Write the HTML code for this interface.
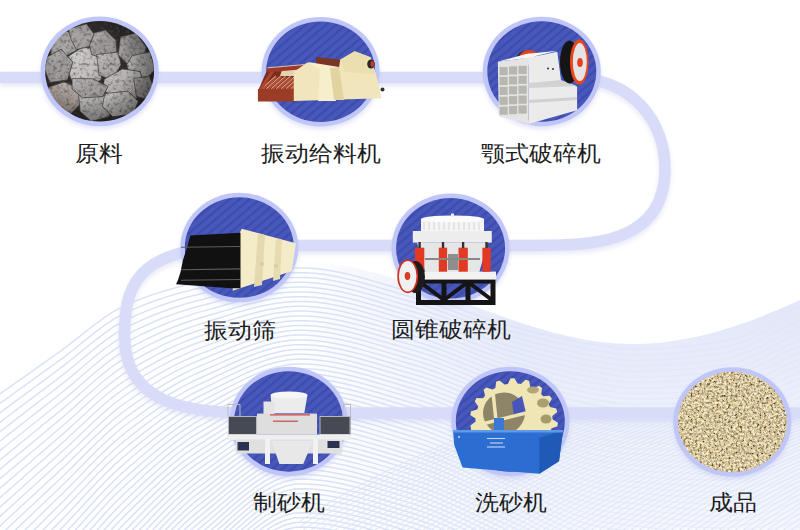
<!DOCTYPE html>
<html><head><meta charset="utf-8">
<style>
html,body{margin:0;padding:0;background:#fff;}
body{width:800px;height:530px;position:relative;overflow:hidden;font-family:"Liberation Sans",sans-serif;}
svg{position:absolute;left:0;top:0;}
.t{position:absolute;font-size:24.3px;color:#1c1c1c;white-space:nowrap;line-height:30px;height:30px;transform:translateX(-50%) scaleY(0.92);transform-origin:50% 50%;}
</style></head><body>
<svg width="800" height="530" viewBox="0 0 800 530">
<defs>
<pattern id="st" patternUnits="userSpaceOnUse" width="6.5" height="6.5" patternTransform="rotate(50)">
<rect width="6.5" height="6.5" fill="#4757ba"/><rect width="2.2" height="6.5" fill="#3c4bac"/>
</pattern>
<linearGradient id="tint" gradientUnits="userSpaceOnUse" x1="0" y1="290" x2="0" y2="530">
<stop offset="0" stop-color="#e1e6f9"/><stop offset="0.5" stop-color="#ecf0fb"/><stop offset="1" stop-color="#f5f7fd"/>
</linearGradient>
<linearGradient id="hfade" gradientUnits="userSpaceOnUse" x1="300" y1="0" x2="520" y2="0">
<stop offset="0" stop-color="#000"/><stop offset="1" stop-color="#fff"/>
</linearGradient>
<mask id="tmask" maskUnits="userSpaceOnUse" x="0" y="0" width="800" height="530"><rect width="800" height="530" fill="url(#hfade)"/></mask>
<linearGradient id="lfade" gradientUnits="userSpaceOnUse" x1="0" y1="0" x2="800" y2="0">
<stop offset="0" stop-color="#fff"/><stop offset="0.5" stop-color="#fff"/><stop offset="0.72" stop-color="#666"/><stop offset="1" stop-color="#444"/>
</linearGradient>
<mask id="lmask" maskUnits="userSpaceOnUse" x="0" y="0" width="800" height="530"><rect width="800" height="530" fill="url(#lfade)"/></mask>
<clipPath id="lowclip"><rect x="300" y="419" width="500" height="111"/></clipPath>
<linearGradient id="rsh" x1="0" y1="0" x2="1" y2="1">
<stop offset="0" stop-color="#fff" stop-opacity="0.3"/><stop offset="0.5" stop-color="#fff" stop-opacity="0"/><stop offset="1" stop-color="#000" stop-opacity="0.35"/>
</linearGradient>
<radialGradient id="vig" cx="0.42" cy="0.45" r="0.6">
<stop offset="0.55" stop-color="#000" stop-opacity="0"/><stop offset="1" stop-color="#000" stop-opacity="0.38"/>
</radialGradient>
<filter id="bl" x="-20%" y="-20%" width="140%" height="140%"><feGaussianBlur stdDeviation="2"/></filter>
<filter id="sand" x="0" y="0" width="100%" height="100%">
<feTurbulence type="fractalNoise" baseFrequency="0.42" numOctaves="3" seed="3" result="n"/>
<feColorMatrix in="n" type="matrix" values="0 0 0 0 0  0 0 0 0 0  0 0 0 0 0  -3.0 0 0 0 1.55" result="a"/>
<feFlood flood-color="#4e3a20" result="d"/>
<feComposite in="d" in2="a" operator="in" result="dk"/>
<feTurbulence type="fractalNoise" baseFrequency="0.45" numOctaves="3" seed="11" result="n2"/>
<feColorMatrix in="n2" type="matrix" values="0 0 0 0 0  0 0 0 0 0  0 0 0 0 0  3.2 0 0 0 -1.1" result="a2"/>
<feFlood flood-color="#f5edcf" result="l"/>
<feComposite in="l" in2="a2" operator="in" result="lt"/>
<feMerge><feMergeNode in="SourceGraphic"/><feMergeNode in="lt"/><feMergeNode in="dk"/></feMerge>
</filter>
<filter id="rock" x="0" y="0" width="100%" height="100%">
<feTurbulence type="fractalNoise" baseFrequency="0.3" numOctaves="3" seed="7" result="n"/>
<feColorMatrix in="n" type="matrix" values="0 0 0 0 0  0 0 0 0 0  0 0 0 0 0  -2.0 0 0 0 1.1" result="a"/>
<feFlood flood-color="#4a4444" result="d"/>
<feComposite in="d" in2="a" operator="in" result="dk"/>
<feMerge><feMergeNode in="SourceGraphic"/><feMergeNode in="dk"/></feMerge>
</filter>
</defs>
<path d="M0,388 C60,322 170,262 300,262 C410,262 520,344 632,344 C700,344 760,318 800,300 V530 H0 Z" fill="url(#tint)" mask="url(#tmask)"/>
<g fill="none" stroke="#d9e2f6" stroke-width="1.5" mask="url(#lmask)"><path d="M-5,397.5 5,390.4 15,383.3 25,376.3 35,369.2 45,362.1 55,355.0 65,347.9 75,340.2 85,332.2 95,324.4 105,317.1 115,310.6 125,305.5 135,301.3 145,297.4 155,293.9 165,290.7 175,287.9 185,285.3 195,283.0 205,281.0 215,279.0 225,277.0 235,275.1 245,273.3 255,271.6 265,270.2 275,269.1 285,268.3 295,267.9 305,267.9 315,268.5 325,269.8 335,271.5 345,273.6 355,276.0 365,278.7 375,281.6 385,284.5 395,287.5 405,290.4 415,293.1 425,296.2 435,299.5 445,303.1 455,306.9 465,310.7 475,314.5 485,318.1 495,321.5 505,324.6 515,327.3 525,329.9 535,332.4 545,334.8 555,337.0 565,339.2 575,341.2 585,343.0 595,344.7 605,346.3 615,348.0 625,349.2 635,349.5 645,349.3 655,348.9 665,348.2 675,347.4 685,346.4 695,345.3 705,344.1 715,342.7 725,341.1 735,338.4 745,334.7 755,330.2 765,325.1 775,319.8 785,314.4 795,309.2 805,304.5 805,304.5"/><path d="M-5,407.0 5,399.8 15,392.5 25,385.3 35,378.1 45,370.8 55,363.6 65,356.3 75,348.5 85,340.4 95,332.4 105,324.9 115,318.3 125,313.0 135,308.6 145,304.5 155,300.8 165,297.4 175,294.3 185,291.6 195,289.1 205,286.9 215,284.7 225,282.6 235,280.5 245,278.5 255,276.8 265,275.2 275,274.0 285,273.1 295,272.7 305,272.7 315,273.3 325,274.5 335,276.3 345,278.4 355,280.8 365,283.5 375,286.4 385,289.3 395,292.3 405,295.2 415,297.9 425,301.0 435,304.3 445,308.0 455,311.7 465,315.6 475,319.4 485,323.0 495,326.5 505,329.6 515,332.3 525,335.0 535,337.5 545,340.0 555,342.3 565,344.5 575,346.6 585,348.5 595,350.2 605,351.8 615,353.5 625,354.7 635,355.0 645,354.8 655,354.4 665,353.8 675,353.1 685,352.2 695,351.1 705,349.9 715,348.7 725,347.2 735,344.5 745,340.9 755,336.4 765,331.4 775,326.1 785,320.8 795,315.7 805,311.0 805,311.0"/><path d="M-5,416.5 5,409.1 15,401.7 25,394.3 35,387.0 45,379.6 55,372.2 65,364.7 75,356.7 85,348.5 95,340.4 105,332.8 115,326.0 125,320.5 135,315.9 145,311.6 155,307.6 165,304.0 175,300.7 185,297.8 195,295.2 205,292.8 215,290.5 225,288.2 235,285.9 245,283.8 255,281.9 265,280.2 275,278.9 285,278.0 295,277.5 305,277.5 315,278.1 325,279.3 335,281.1 345,283.2 355,285.6 365,288.3 375,291.2 385,294.1 395,297.1 405,300.0 415,302.7 425,305.8 435,309.2 445,312.8 455,316.6 465,320.4 475,324.3 485,327.9 495,331.4 505,334.6 515,337.4 525,340.1 535,342.7 545,345.2 555,347.6 565,349.9 575,352.0 585,353.9 595,355.7 605,357.3 615,359.0 625,360.2 635,360.5 645,360.3 655,360.0 665,359.4 675,358.7 685,357.9 695,356.9 705,355.8 715,354.6 725,353.2 735,350.6 745,347.0 755,342.6 765,337.7 775,332.5 785,327.2 795,322.1 805,317.5 805,317.5"/><path d="M-5,426.0 5,418.5 15,410.9 25,403.4 35,395.8 45,388.3 55,380.8 65,373.1 75,365.0 85,356.7 95,348.4 105,340.7 115,333.7 125,328.0 135,323.1 145,318.6 155,314.5 165,310.7 175,307.2 185,304.1 195,301.3 205,298.8 215,296.3 225,293.8 235,291.4 245,289.1 255,287.0 265,285.3 275,283.8 285,282.8 295,282.3 305,282.3 315,282.9 325,284.1 335,285.8 345,288.0 355,290.4 365,293.1 375,296.0 385,298.9 395,301.9 405,304.8 415,307.5 425,310.6 435,314.0 445,317.6 455,321.4 465,325.3 475,329.1 485,332.9 495,336.4 505,339.5 515,342.4 525,345.1 535,347.8 545,350.4 555,352.9 565,355.2 575,357.4 585,359.4 595,361.2 605,362.8 615,364.5 625,365.7 635,366.0 645,365.8 655,365.5 665,365.0 675,364.4 685,363.6 695,362.7 705,361.7 715,360.6 725,359.2 735,356.8 745,353.2 755,348.9 765,344.0 775,338.8 785,333.6 795,328.6 805,324.0 805,324.0"/><path d="M-5,435.5 5,427.8 15,420.1 25,412.4 35,404.7 45,397.0 55,389.3 65,381.6 75,373.3 85,364.8 95,356.4 105,348.5 115,341.4 125,335.5 135,330.4 145,325.7 155,321.3 165,317.3 175,313.6 185,310.3 195,307.3 205,304.7 215,302.0 225,299.4 235,296.8 245,294.4 255,292.2 265,290.3 275,288.7 285,287.7 295,287.1 305,287.1 315,287.7 325,288.9 335,290.6 345,292.8 355,295.2 365,297.9 375,300.7 385,303.7 395,306.7 405,309.6 415,312.3 425,315.4 435,318.8 445,322.4 455,326.3 465,330.2 475,334.0 485,337.8 495,341.3 505,344.5 515,347.4 525,350.2 535,353.0 545,355.6 555,358.2 565,360.6 575,362.8 585,364.9 595,366.7 605,368.3 615,370.0 625,371.2 635,371.5 645,371.4 655,371.1 665,370.6 675,370.0 685,369.3 695,368.5 705,367.6 715,366.5 725,365.3 735,362.9 745,359.4 755,355.1 765,350.3 775,345.1 785,340.0 795,335.0 805,330.5 805,330.5"/><path d="M-5,445.0 5,437.2 15,429.3 25,421.5 35,413.6 45,405.8 55,397.9 65,390.0 75,381.6 85,373.0 95,364.5 105,356.4 115,349.1 125,343.0 135,337.7 145,332.8 155,328.2 165,323.9 175,320.1 185,316.6 195,313.4 205,310.6 215,307.8 225,305.0 235,302.2 245,299.7 255,297.3 265,295.3 275,293.7 285,292.5 295,291.9 305,291.9 315,292.5 325,293.7 335,295.4 345,297.5 355,300.0 365,302.7 375,305.5 385,308.5 395,311.5 405,314.4 415,317.1 425,320.2 435,323.6 445,327.3 455,331.1 465,335.0 475,338.9 485,342.7 495,346.2 505,349.5 515,352.4 525,355.3 535,358.1 545,360.9 555,363.5 565,365.9 575,368.2 585,370.3 595,372.2 605,373.8 615,375.5 625,376.7 635,377.0 645,376.9 655,376.6 665,376.2 675,375.7 685,375.0 695,374.3 705,373.4 715,372.5 725,371.3 735,369.0 745,365.6 755,361.4 765,356.6 775,351.5 785,346.4 795,341.4 805,337.0 805,337.0"/><path d="M-5,454.5 5,446.5 15,438.5 25,430.5 35,422.5 45,414.5 55,406.5 65,398.4 75,389.9 85,381.1 95,372.5 105,364.3 115,356.8 125,350.5 135,345.0 145,339.8 155,335.0 165,330.6 175,326.5 185,322.8 195,319.5 205,316.5 215,313.5 225,310.6 235,307.7 245,304.9 255,302.5 265,300.3 275,298.6 285,297.3 295,296.7 305,296.7 315,297.3 325,298.5 335,300.2 345,302.3 355,304.8 365,307.5 375,310.3 385,313.3 395,316.2 405,319.1 415,321.9 425,325.0 435,328.4 445,332.1 455,335.9 465,339.9 475,343.8 485,347.6 495,351.2 505,354.5 515,357.5 525,360.4 535,363.3 545,366.1 555,368.8 565,371.3 575,373.7 585,375.8 595,377.7 605,379.3 615,381.0 625,382.2 635,382.5 645,382.4 655,382.1 665,381.8 675,381.3 685,380.7 695,380.1 705,379.3 715,378.4 725,377.4 735,375.1 745,371.8 755,367.6 765,362.9 775,357.8 785,352.7 795,347.9 805,343.5 805,343.5"/><path d="M-5,464.0 5,455.8 15,447.7 25,439.5 35,431.4 45,423.2 55,415.1 65,406.8 75,398.2 85,389.3 95,380.5 105,372.1 115,364.5 125,358.0 135,352.3 145,346.9 155,341.9 165,337.2 175,333.0 185,329.1 195,325.6 205,322.5 215,319.3 225,316.2 235,313.1 245,310.2 255,307.6 265,305.3 275,303.5 285,302.2 295,301.5 305,301.5 315,302.1 325,303.3 335,305.0 345,307.1 355,309.6 365,312.3 375,315.1 385,318.1 395,321.0 405,323.9 415,326.7 425,329.8 435,333.2 445,336.9 455,340.8 465,344.7 475,348.7 485,352.5 495,356.1 505,359.5 515,362.5 525,365.5 535,368.4 545,371.3 555,374.1 565,376.7 575,379.1 585,381.3 595,383.2 605,384.8 615,386.5 625,387.7 635,388.0 645,387.9 655,387.7 665,387.4 675,386.9 685,386.4 695,385.8 705,385.2 715,384.4 725,383.4 735,381.2 745,378.0 755,373.9 765,369.2 775,364.2 785,359.1 795,354.3 805,350.0 805,350.0"/><path d="M-5,473.5 5,465.2 15,456.9 25,448.6 35,440.3 45,432.0 55,423.7 65,415.3 75,406.4 85,397.4 95,388.5 105,380.0 115,372.2 125,365.5 135,359.6 145,354.0 155,348.8 165,343.9 175,339.4 185,335.3 195,331.7 205,328.4 215,325.1 225,321.8 235,318.5 245,315.5 255,312.7 265,310.3 275,308.4 285,307.0 295,306.3 305,306.3 315,306.9 325,308.1 335,309.8 345,311.9 355,314.4 365,317.0 375,319.9 385,322.9 395,325.8 405,328.7 415,331.5 425,334.6 435,338.1 445,341.8 455,345.6 465,349.6 475,353.5 485,357.4 495,361.1 505,364.4 515,367.5 525,370.6 535,373.6 545,376.5 555,379.3 565,382.0 575,384.5 585,386.7 595,388.7 605,390.3 615,392.0 625,393.2 635,393.5 645,393.4 655,393.2 665,393.0 675,392.6 685,392.1 695,391.6 705,391.0 715,390.4 725,389.5 735,387.4 745,384.2 755,380.1 765,375.5 775,370.5 785,365.5 795,360.8 805,356.5 805,356.5"/><path d="M-5,483.0 5,474.5 15,466.1 25,457.6 35,449.2 45,440.7 55,432.2 65,423.7 75,414.7 85,405.6 95,396.5 105,387.8 115,379.9 125,373.0 135,366.9 145,361.1 155,355.6 165,350.5 175,345.9 185,341.6 195,337.7 205,334.3 215,330.8 225,327.4 235,324.0 245,320.8 255,317.9 265,315.4 275,313.3 285,311.9 295,311.1 305,311.1 315,311.7 325,312.9 335,314.6 345,316.7 355,319.2 365,321.8 375,324.7 385,327.6 395,330.6 405,333.5 415,336.3 425,339.4 435,342.9 445,346.6 455,350.5 465,354.4 475,358.4 485,362.3 495,366.0 505,369.4 515,372.5 525,375.6 535,378.7 545,381.7 555,384.6 565,387.4 575,389.9 585,392.2 595,394.1 605,395.8 615,397.5 625,398.7 635,399.0 645,398.9 655,398.8 665,398.5 675,398.2 685,397.8 695,397.4 705,396.9 715,396.3 725,395.5 735,393.5 745,390.3 755,386.4 765,381.8 775,376.9 785,371.9 795,367.2 805,363.0 805,363.0"/><path d="M-5,492.5 5,483.9 15,475.3 25,466.7 35,458.0 45,449.4 55,440.8 65,432.1 75,423.0 85,413.7 95,404.5 105,395.7 115,387.6 125,380.5 135,374.2 145,368.2 155,362.5 165,357.2 175,352.3 185,347.8 195,343.8 205,340.2 215,336.6 225,333.0 235,329.4 245,326.1 255,323.0 265,320.4 275,318.2 285,316.7 295,315.9 305,315.9 315,316.5 325,317.7 335,319.4 345,321.5 355,323.9 365,326.6 375,329.5 385,332.4 395,335.4 405,338.3 415,341.1 425,344.2 435,347.7 445,351.4 455,355.3 465,359.3 475,363.3 485,367.2 495,370.9 505,374.4 515,377.6 525,380.7 535,383.9 545,387.0 555,389.9 565,392.7 575,395.3 585,397.6 595,399.6 605,401.3 615,403.0 625,404.2 635,404.5 645,404.4 655,404.3 665,404.1 675,403.9 685,403.5 695,403.2 705,402.7 715,402.3 725,401.5 735,399.6 745,396.5 755,392.6 765,388.1 775,383.2 785,378.3 795,373.7 805,369.5 805,369.5"/><path d="M-5,502.0 5,493.2 15,484.5 25,475.7 35,466.9 45,458.2 55,449.4 65,440.5 75,431.3 85,421.8 95,412.5 105,403.5 115,395.3 125,388.0 135,381.5 145,375.2 155,369.4 165,363.9 175,358.7 185,354.1 195,349.9 205,346.1 215,342.4 225,338.5 235,334.8 245,331.3 255,328.2 265,325.4 275,323.2 285,321.6 295,320.7 305,320.7 315,321.3 325,322.5 335,324.2 345,326.3 355,328.7 365,331.4 375,334.3 385,337.2 395,340.2 405,343.1 415,345.9 425,349.0 435,352.5 445,356.2 455,360.2 465,364.2 475,368.2 485,372.1 495,375.9 505,379.4 515,382.6 525,385.8 535,389.0 545,392.2 555,395.2 565,398.1 575,400.7 585,403.1 595,405.1 605,406.8 615,408.5 625,409.7 635,410.0 645,410.0 655,409.9 665,409.7 675,409.5 685,409.2 695,408.9 705,408.6 715,408.2 725,407.6 735,405.7 745,402.7 755,398.9 765,394.4 775,389.6 785,384.7 795,380.1 805,376.0 805,376.0"/><path d="M-5,511.5 5,502.6 15,493.7 25,484.7 35,475.8 45,466.9 55,458.0 65,449.0 75,439.6 85,430.0 95,420.5 105,411.4 115,403.0 125,395.5 135,388.8 145,382.3 155,376.2 165,370.5 175,365.2 185,360.3 195,356.0 205,352.1 215,348.1 225,344.1 235,340.3 245,336.6 255,333.3 265,330.4 275,328.1 285,326.4 295,325.5 305,325.5 315,326.1 325,327.3 335,329.0 345,331.1 355,333.5 365,336.2 375,339.1 385,342.0 395,345.0 405,347.9 415,350.7 425,353.9 435,357.3 445,361.1 455,365.0 465,369.0 475,373.1 485,377.0 495,380.8 505,384.4 515,387.6 525,390.9 535,394.2 545,397.4 555,400.5 565,403.5 575,406.2 585,408.6 595,410.6 605,412.3 615,414.0 625,415.2 635,415.5 645,415.5 655,415.4 665,415.3 675,415.1 685,414.9 695,414.7 705,414.5 715,414.2 725,413.6 735,411.9 745,408.9 755,405.1 765,400.7 775,395.9 785,391.1 795,386.6 805,382.5 805,382.5"/><path d="M-5,521.0 5,511.9 15,502.8 25,493.8 35,484.7 45,475.6 55,466.5 65,457.4 75,447.8 85,438.1 95,428.5 105,419.2 115,410.6 125,403.0 135,396.1 145,389.4 155,383.1 165,377.2 175,371.6 185,366.6 195,362.1 205,358.0 215,353.9 225,349.7 235,345.7 245,341.9 255,338.4 265,335.4 275,333.0 285,331.2 295,330.3 305,330.3 315,330.9 325,332.1 335,333.8 345,335.9 355,338.3 365,341.0 375,343.9 385,346.8 395,349.8 405,352.7 415,355.6 425,358.7 435,362.1 445,365.9 455,369.8 465,373.9 475,378.0 485,381.9 495,385.8 505,389.3 515,392.6 525,396.0 535,399.3 545,402.6 555,405.8 565,408.8 575,411.6 585,414.0 595,416.1 605,417.8 615,419.5 625,420.7 635,421.0 645,421.0 655,420.9 665,420.9 675,420.8 685,420.6 695,420.5 705,420.3 715,420.1 725,419.7 735,418.0 745,415.1 755,411.4 765,407.0 775,402.3 785,397.5 795,393.0 805,389.0 805,389.0"/><path d="M-5,530.5 5,521.3 15,512.0 25,502.8 35,493.6 45,484.3 55,475.1 65,465.8 75,456.1 85,446.3 95,436.5 105,427.1 115,418.3 125,410.5 135,403.4 145,396.5 155,390.0 165,383.8 175,378.1 185,372.9 195,368.1 205,363.9 215,359.6 225,355.3 235,351.2 245,347.2 255,343.6 265,340.4 275,337.9 285,336.1 295,335.1 305,335.1 315,335.7 325,336.9 335,338.6 345,340.7 355,343.1 365,345.8 375,348.6 385,351.6 395,354.6 405,357.5 415,360.4 425,363.5 435,367.0 445,370.7 455,374.7 465,378.8 475,382.8 485,386.8 495,390.7 505,394.3 515,397.7 525,401.0 535,404.5 545,407.8 555,411.1 565,414.2 575,417.0 585,419.5 595,421.6 605,423.3 615,425.0 625,426.2 635,426.5 645,426.5 655,426.5 665,426.4 675,426.4 685,426.3 695,426.2 705,426.2 715,426.1 725,425.7 735,424.2 745,421.4 755,417.7 765,413.3 775,408.6 785,403.9 795,399.4 805,395.5 805,395.5"/><path d="M-5,540.0 5,530.6 15,521.2 25,511.8 35,502.5 45,493.1 55,483.7 65,474.2 75,464.4 85,454.4 95,444.5 105,434.9 115,426.0 125,418.0 135,410.7 145,403.6 155,396.8 165,390.5 175,384.5 185,379.1 195,374.2 205,369.8 215,365.4 225,360.9 235,356.6 245,352.5 255,348.7 265,345.5 275,342.8 285,340.9 295,339.9 305,339.9 315,340.5 325,341.7 335,343.4 345,345.5 355,347.9 365,350.6 375,353.4 385,356.4 395,359.4 405,362.3 415,365.2 425,368.3 435,371.8 445,375.6 455,379.5 465,383.6 475,387.7 485,391.8 495,395.6 505,399.3 515,402.7 525,406.1 535,409.6 545,413.0 555,416.4 565,419.5 575,422.4 585,425.0 595,427.1 605,428.9 615,430.5 625,431.7 635,432.0 645,432.0 655,432.0 665,432.0 675,432.0 685,432.0 695,432.0 705,432.0 715,432.0 725,431.8 735,430.3 745,427.6 755,423.9 765,419.6 775,415.0 785,410.3 795,405.9 805,402.0 805,402.0"/><path d="M-5,549.5 5,540.0 15,530.4 25,520.9 35,511.3 45,501.8 55,492.3 65,482.7 75,472.7 85,462.5 95,452.5 105,442.8 115,433.7 125,425.5 135,418.0 145,410.7 155,403.7 165,397.1 175,391.0 185,385.4 195,380.3 205,375.8 215,371.2 225,366.5 235,362.0 245,357.8 255,353.9 265,350.5 275,347.7 285,345.8 295,344.7 305,344.7 315,345.3 325,346.5 335,348.2 345,350.3 355,352.7 365,355.4 375,358.2 385,361.2 395,364.2 405,367.1 415,370.0 425,373.1 435,376.6 445,380.4 455,384.4 465,388.5 475,392.6 485,396.7 495,400.6 505,404.3 515,407.7 525,411.2 535,414.7 545,418.3 555,421.7 565,424.9 575,427.8 585,430.4 595,432.6 605,434.3 615,436.0 625,437.2 635,437.5 645,437.6 655,437.7 665,437.8 675,437.9 685,437.9 695,438.0 705,438.0 715,438.0 725,437.8 735,436.3 745,433.6 755,430.1 765,425.8 775,421.3 785,416.7 795,412.3 805,408.5 805,408.5"/><path d="M-5,559.0 5,549.3 15,539.6 25,529.9 35,520.2 45,510.5 55,500.8 65,491.1 75,481.0 85,470.7 95,460.5 105,450.6 115,441.4 125,433.0 135,425.3 145,417.8 155,410.6 165,403.8 175,397.4 185,391.6 195,386.4 205,381.7 215,376.9 225,372.1 235,367.5 245,363.0 255,359.0 265,355.5 275,352.7 285,350.6 295,349.5 305,349.5 315,350.1 325,351.3 335,353.0 345,355.1 355,357.5 365,360.2 375,363.0 385,366.0 395,369.0 405,371.9 415,374.8 425,377.9 435,381.4 445,385.2 455,389.2 465,393.3 475,397.5 485,401.6 495,405.5 505,409.3 515,412.7 525,416.3 535,419.9 545,423.5 555,427.0 565,430.2 575,433.3 585,435.9 595,438.1 605,439.8 615,441.4 625,442.6 635,443.1 645,443.3 655,443.5 665,443.6 675,443.8 685,443.9 695,443.9 705,444.0 715,444.0 725,443.8 735,442.4 745,439.7 755,436.2 765,432.0 775,427.6 785,423.1 795,418.8 805,415.0 805,415.0"/><path d="M-5,568.5 5,558.7 15,548.8 25,539.0 35,529.1 45,519.3 55,509.4 65,499.5 75,489.2 85,478.8 95,468.5 105,458.5 115,449.0 125,440.5 135,432.6 145,424.9 155,417.5 165,410.5 175,403.9 185,397.9 195,392.5 205,387.6 215,382.7 225,377.7 235,372.9 245,368.3 255,364.1 265,360.5 275,357.6 285,355.5 295,354.3 305,354.3 315,354.9 325,356.1 335,357.8 345,359.9 355,362.3 365,365.0 375,367.8 385,370.8 395,373.8 405,376.7 415,379.6 425,382.7 435,386.2 445,390.1 455,394.1 465,398.2 475,402.4 485,406.5 495,410.5 505,414.2 515,417.7 525,421.4 535,425.0 545,428.7 555,432.2 565,435.6 575,438.7 585,441.4 595,443.6 605,445.3 615,446.9 625,448.1 635,448.6 645,448.9 655,449.2 665,449.4 675,449.6 685,449.8 695,449.9 705,450.0 715,450.0 725,449.8 735,448.4 745,445.8 755,442.3 765,438.3 775,433.9 785,429.4 795,425.2 805,421.5 805,421.5"/><path d="M-5,578.0 5,568.0 15,558.0 25,548.0 35,538.0 45,528.0 55,518.0 65,507.9 75,497.5 85,486.9 95,476.5 105,466.3 115,456.7 125,448.0 135,439.9 145,431.9 155,424.3 165,417.1 175,410.4 185,404.1 195,398.5 205,393.5 215,388.4 225,383.3 235,378.3 245,373.6 255,369.3 265,365.5 275,362.5 285,360.3 295,359.2 305,359.1 315,359.7 325,360.9 335,362.6 345,364.7 355,367.1 365,369.7 375,372.6 385,375.6 395,378.6 405,381.5 415,384.4 425,387.5 435,391.1 445,394.9 455,398.9 465,403.1 475,407.3 485,411.4 495,415.4 505,419.2 515,422.8 525,426.4 535,430.2 545,433.9 555,437.5 565,441.0 575,444.1 585,446.8 595,449.1 605,450.8 615,452.4 625,453.5 635,454.1 645,454.5 655,454.9 665,455.2 675,455.5 685,455.7 695,455.8 705,455.9 715,456.0 725,455.8 735,454.4 745,451.9 755,448.5 765,444.5 775,440.1 785,435.8 795,431.6 805,428.0 805,428.0"/><path d="M-5,587.5 5,577.3 15,567.2 25,557.0 35,546.9 45,536.7 55,526.6 65,516.4 75,505.8 85,495.1 95,484.4 105,474.1 115,464.4 125,455.5 135,447.2 145,439.0 155,431.2 165,423.8 175,416.8 185,410.4 195,404.6 205,399.4 215,394.2 225,388.9 235,383.8 245,378.9 255,374.4 265,370.5 275,367.4 285,365.2 295,364.0 305,363.9 315,364.5 325,365.7 335,367.4 345,369.5 355,371.9 365,374.5 375,377.4 385,380.4 395,383.3 405,386.3 415,389.2 425,392.3 435,395.9 445,399.7 455,403.8 465,407.9 475,412.1 485,416.3 495,420.4 505,424.2 515,427.8 525,431.5 535,435.3 545,439.1 555,442.8 565,446.3 575,449.5 585,452.3 595,454.6 605,456.3 615,457.8 625,459.0 635,459.7 645,460.1 655,460.6 665,461.0 675,461.3 685,461.6 695,461.8 705,461.9 715,462.0 725,461.8 735,460.4 745,457.9 755,454.6 765,450.7 775,446.4 785,442.1 795,438.1 805,434.5 805,434.5"/><path d="M-5,597.0 5,586.7 15,576.4 25,566.1 35,555.8 45,545.5 55,535.2 65,524.8 75,514.1 85,503.2 95,492.4 105,482.0 115,472.1 125,463.0 135,454.5 145,446.1 155,438.1 165,430.4 175,423.3 185,416.6 195,410.7 205,405.4 215,400.0 225,394.5 235,389.2 245,384.2 255,379.6 265,375.6 275,372.3 285,370.0 295,368.8 305,368.7 315,369.3 325,370.5 335,372.2 345,374.2 355,376.7 365,379.3 375,382.2 385,385.1 395,388.1 405,391.1 415,394.0 425,397.1 435,400.7 445,404.5 455,408.6 465,412.8 475,417.0 485,421.2 495,425.3 505,429.2 515,432.8 525,436.6 535,440.5 545,444.3 555,448.1 565,451.7 575,454.9 585,457.8 595,460.1 605,461.8 615,463.3 625,464.5 635,465.2 645,465.7 655,466.2 665,466.7 675,467.1 685,467.4 695,467.7 705,467.9 715,468.0 725,467.8 735,466.5 745,464.0 755,460.7 765,456.9 775,452.7 785,448.5 795,444.5 805,441.0 805,441.0"/><path d="M-5,606.5 5,596.0 15,585.6 25,575.1 35,564.7 45,554.2 55,543.7 65,533.2 75,522.4 85,511.4 95,500.4 105,489.8 115,479.8 125,470.5 135,461.8 145,453.2 155,445.0 165,437.1 175,429.7 185,422.9 195,416.8 205,411.3 215,405.7 225,400.1 235,394.6 245,389.4 255,384.7 265,380.6 275,377.2 285,374.8 295,373.6 305,373.5 315,374.1 325,375.3 335,377.0 345,379.0 355,381.4 365,384.1 375,387.0 385,389.9 395,392.9 405,395.9 415,398.8 425,401.9 435,405.5 445,409.4 455,413.5 465,417.7 475,421.9 485,426.1 495,430.3 505,434.2 515,437.8 525,441.7 535,445.6 545,449.6 555,453.4 565,457.0 575,460.3 585,463.2 595,465.6 605,467.3 615,468.8 625,469.9 635,470.7 645,471.3 655,471.9 665,472.5 675,472.9 685,473.3 695,473.6 705,473.9 715,474.0 725,473.8 735,472.5 745,470.1 755,466.9 765,463.1 775,459.0 785,454.9 795,450.9 805,447.5 805,447.5"/><path d="M-5,616.0 5,605.4 15,594.8 25,584.2 35,573.5 45,562.9 55,552.3 65,541.6 75,530.6 85,519.5 95,508.4 105,497.7 115,487.4 125,478.0 135,469.1 145,460.3 155,451.8 165,443.8 175,436.2 185,429.2 195,422.9 205,417.2 215,411.5 225,405.7 235,400.1 245,394.7 255,389.8 265,385.6 275,382.2 285,379.7 295,378.4 305,378.3 315,378.9 325,380.1 335,381.8 345,383.8 355,386.2 365,388.9 375,391.8 385,394.7 395,397.7 405,400.7 415,403.6 425,406.8 435,410.3 445,414.2 455,418.3 465,422.5 475,426.8 485,431.1 495,435.2 505,439.1 515,442.9 525,446.8 535,450.8 545,454.8 555,458.7 565,462.4 575,465.8 585,468.7 595,471.1 605,472.8 615,474.3 625,475.4 635,476.2 645,476.9 655,477.6 665,478.2 675,478.7 685,479.2 695,479.6 705,479.8 715,480.0 725,479.8 735,478.5 745,476.2 755,473.0 765,469.3 775,465.3 785,461.2 795,457.4 805,454.0 805,454.0"/><path d="M-5,625.5 5,614.7 15,604.0 25,593.2 35,582.4 45,571.7 55,560.9 65,550.1 75,538.9 85,527.6 95,516.4 105,505.5 115,495.1 125,485.5 135,476.4 145,467.4 155,458.7 165,450.4 175,442.6 185,435.4 195,428.9 205,423.1 215,417.3 225,411.3 235,405.5 245,400.0 255,395.0 265,390.6 275,387.1 285,384.5 295,383.2 305,383.1 315,383.7 325,384.9 335,386.6 345,388.6 355,391.0 365,393.7 375,396.6 385,399.5 395,402.5 405,405.5 415,408.4 425,411.6 435,415.1 445,419.0 455,423.1 465,427.4 475,431.7 485,436.0 495,440.1 505,444.1 515,447.9 525,451.8 535,455.9 545,460.0 555,464.0 565,467.8 575,471.2 585,474.2 595,476.6 605,478.3 615,479.7 625,480.9 635,481.7 645,482.5 655,483.2 665,483.9 675,484.5 685,485.1 695,485.5 705,485.8 715,486.0 725,485.8 735,484.6 745,482.2 755,479.1 765,475.5 775,471.6 785,467.6 795,463.8 805,460.5 805,460.5"/><path d="M-5,635.0 5,624.1 15,613.2 25,602.2 35,591.3 45,580.4 55,569.5 65,558.5 75,547.2 85,535.8 95,524.4 105,513.3 115,502.8 125,493.0 135,483.7 145,474.5 155,465.6 165,457.1 175,449.1 185,441.7 195,435.0 205,429.1 215,423.0 225,416.9 235,411.0 245,405.3 255,400.1 265,395.6 275,392.0 285,389.4 295,388.0 305,387.9 315,388.5 325,389.7 335,391.4 345,393.4 355,395.8 365,398.5 375,401.3 385,404.3 395,407.3 405,410.3 415,413.2 425,416.4 435,420.0 445,423.9 455,428.0 465,432.3 475,436.6 485,440.9 495,445.1 505,449.1 515,452.9 525,456.9 535,461.0 545,465.2 555,469.3 565,473.1 575,476.6 585,479.6 595,482.0 605,483.8 615,485.2 625,486.4 635,487.2 645,488.1 655,488.9 665,489.7 675,490.3 685,491.0 695,491.4 705,491.8 715,492.0 725,491.8 735,490.6 745,488.3 755,485.3 765,481.7 775,477.8 785,473.9 795,470.2 805,467.0 805,467.0"/><path d="M-5,644.5 5,633.4 15,622.3 25,611.3 35,600.2 45,589.1 55,578.0 65,566.9 75,555.5 85,543.9 95,532.4 105,521.2 115,510.5 125,500.5 135,491.0 145,481.6 155,472.5 165,463.8 175,455.5 185,447.9 195,441.1 205,435.0 215,428.8 225,422.5 235,416.4 245,410.6 255,405.3 265,400.6 275,396.9 285,394.2 295,392.8 305,392.7 315,393.3 325,394.5 335,396.1 345,398.2 355,400.6 365,403.3 375,406.1 385,409.1 395,412.1 405,415.1 415,418.0 425,421.2 435,424.8 445,428.7 455,432.8 465,437.1 475,441.5 485,445.8 495,450.0 505,454.1 515,457.9 525,462.0 535,466.2 545,470.4 555,474.6 565,478.5 575,482.0 585,485.1 595,487.5 605,489.3 615,490.7 625,491.8 635,492.8 645,493.7 655,494.5 665,495.4 675,496.1 685,496.8 695,497.4 705,497.8 715,498.0 725,497.8 735,496.6 745,494.4 755,491.4 765,487.9 775,484.1 785,480.3 795,476.7 805,473.5 805,473.5"/><path d="M-5,654.0 5,642.8 15,631.5 25,620.3 35,609.1 45,597.8 55,586.6 65,575.3 75,563.8 85,552.0 95,540.4 105,529.0 115,518.2 125,508.0 135,498.3 145,488.7 155,479.4 165,470.4 175,462.0 185,454.2 195,447.2 205,440.9 215,434.5 225,428.1 235,421.8 245,415.9 255,410.4 265,405.7 275,401.8 285,399.1 295,397.6 305,397.5 315,398.1 325,399.3 335,400.9 345,403.0 355,405.4 365,408.1 375,410.9 385,413.9 395,416.9 405,419.9 415,422.8 425,426.0 435,429.6 445,433.5 455,437.7 465,442.0 475,446.4 485,450.7 495,455.0 505,459.1 515,463.0 525,467.1 535,471.3 545,475.6 555,479.9 565,483.8 575,487.4 585,490.5 595,493.0 605,494.8 615,496.2 625,497.3 635,498.3 645,499.2 655,500.2 665,501.1 675,501.9 685,502.7 695,503.3 705,503.7 715,504.0 725,503.8 735,502.6 745,500.5 755,497.5 765,494.1 775,490.4 785,486.7 795,483.1 805,480.0 805,480.0"/><path d="M-5,663.5 5,652.1 15,640.7 25,629.3 35,618.0 45,606.6 55,595.2 65,583.8 75,572.0 85,560.2 95,548.4 105,536.9 115,525.8 125,515.5 135,505.6 145,495.8 155,486.2 165,477.1 175,468.4 185,460.4 195,453.3 205,446.8 215,440.3 225,433.7 235,427.3 245,421.1 255,415.5 265,410.7 275,406.7 285,403.9 295,402.4 305,402.3 315,402.9 325,404.1 335,405.7 345,407.8 355,410.2 365,412.9 375,415.7 385,418.7 395,421.7 405,424.7 415,427.6 425,430.8 435,434.4 445,438.4 455,442.5 465,446.9 475,451.3 485,455.6 495,459.9 505,464.0 515,468.0 525,472.1 535,476.5 545,480.9 555,485.1 565,489.2 575,492.9 585,496.0 595,498.5 605,500.3 615,501.7 625,502.8 635,503.8 645,504.8 655,505.8 665,506.8 675,507.7 685,508.5 695,509.2 705,509.7 715,510.0 725,509.8 735,508.7 745,506.5 755,503.7 765,500.3 775,496.7 785,493.0 795,489.6 805,486.5 805,486.5"/><path d="M-5,673.0 5,661.5 15,649.9 25,638.4 35,626.8 45,615.3 55,603.8 65,592.2 75,580.3 85,568.3 95,556.4 105,544.7 115,533.5 125,523.0 135,512.9 145,502.9 155,493.1 165,483.7 175,474.9 185,466.7 195,459.3 205,452.7 215,446.1 225,439.3 235,432.7 245,426.4 255,420.7 265,415.7 275,411.6 285,408.7 295,407.2 305,407.1 315,407.7 325,408.9 335,410.5 345,412.6 355,415.0 365,417.7 375,420.5 385,423.5 395,426.5 405,429.5 415,432.4 425,435.6 435,439.2 445,443.2 455,447.4 465,451.7 475,456.1 485,460.5 495,464.9 505,469.0 515,473.0 525,477.2 535,481.6 545,486.1 555,490.4 565,494.5 575,498.3 585,501.5 595,504.0 605,505.8 615,507.2 625,508.3 635,509.3 645,510.4 655,511.4 665,512.5 675,513.5 685,514.4 695,515.1 705,515.7 715,516.0 725,515.8 735,514.7 745,512.6 755,509.8 765,506.5 775,503.0 785,499.4 795,496.0 805,493.0 805,493.0"/><path d="M-5,682.5 5,670.8 15,659.1 25,647.4 35,635.7 45,624.0 55,612.3 65,600.6 75,588.6 85,576.4 95,564.4 105,552.5 115,541.2 125,530.5 135,520.2 145,510.0 155,500.0 165,490.4 175,481.3 185,473.0 195,465.4 205,458.7 215,451.8 225,444.9 235,438.1 245,431.7 255,425.8 265,420.7 275,416.6 285,413.6 295,412.0 305,411.9 315,412.5 325,413.7 335,415.3 345,417.4 355,419.8 365,422.5 375,425.3 385,428.3 395,431.3 405,434.3 415,437.2 425,440.4 435,444.1 445,448.0 455,452.2 465,456.6 475,461.0 485,465.5 495,469.8 505,474.0 515,478.0 525,482.3 535,486.8 545,491.3 555,495.7 565,499.9 575,503.7 585,506.9 595,509.5 605,511.3 615,512.7 625,513.8 635,514.8 645,515.9 655,517.1 665,518.2 675,519.3 685,520.3 695,521.1 705,521.6 715,522.0 725,521.8 735,520.7 745,518.7 755,515.9 765,512.7 775,509.3 785,505.7 795,502.4 805,499.5 805,499.5"/><path d="M-5,692.0 5,680.2 15,668.3 25,656.5 35,644.6 45,632.8 55,620.9 65,609.0 75,596.9 85,584.6 95,572.3 105,560.4 115,548.9 125,538.0 135,527.5 145,517.1 155,506.9 165,497.1 175,487.8 185,479.2 195,471.5 205,464.6 215,457.6 225,450.5 235,443.6 245,437.0 255,431.0 265,425.7 275,421.5 285,418.4 295,416.8 305,416.7 315,417.3 325,418.5 335,420.1 345,422.2 355,424.6 365,427.2 375,430.1 385,433.1 395,436.1 405,439.1 415,442.0 425,445.2 435,448.9 445,452.9 455,457.1 465,461.5 475,465.9 485,470.4 495,474.8 505,479.0 515,483.0 525,487.4 535,491.9 545,496.5 555,501.0 565,505.3 575,509.1 585,512.4 595,515.0 605,516.8 615,518.2 625,519.3 635,520.3 645,521.5 655,522.7 665,523.9 675,525.1 685,526.1 695,527.0 705,527.6 715,528.0 725,527.9 735,526.8 745,524.8 755,522.1 765,518.9 775,515.5 785,512.1 795,508.9 805,506.0 805,506.0"/><path d="M-5,701.5 5,689.5 15,677.5 25,665.5 35,653.5 45,641.5 55,629.5 65,617.5 75,605.1 85,592.7 95,580.3 105,568.2 115,556.5 125,545.5 135,534.8 145,524.2 155,513.8 165,503.7 175,494.3 185,485.5 195,477.6 205,470.5 215,463.4 225,456.1 235,449.0 245,442.3 255,436.1 265,430.7 275,426.4 285,423.3 295,421.6 305,421.5 315,422.1 325,423.3 335,424.9 345,427.0 355,429.4 365,432.0 375,434.9 385,437.9 395,440.9 405,443.9 415,446.8 425,450.0 435,453.7 445,457.7 455,461.9 465,466.3 475,470.8 485,475.3 495,479.7 505,484.0 515,488.1 525,492.4 535,497.1 545,501.7 555,506.3 565,510.6 575,514.5 585,517.9 595,520.5 605,522.3 615,523.6 625,524.7 635,525.8 645,527.1 655,528.3 665,529.6 675,530.9 685,532.0 695,532.9 705,533.6 715,534.0 725,533.9 735,532.8 745,530.8 755,528.2 765,525.1 775,521.8 785,518.5 795,515.3 805,512.5 805,512.5"/><path d="M-5,711.0 5,698.8 15,686.7 25,674.5 35,662.4 45,650.2 55,638.1 65,625.9 75,613.4 85,600.8 95,588.3 105,576.0 115,564.2 125,553.0 135,542.1 145,531.3 155,520.7 165,510.4 175,500.7 185,491.7 195,483.7 205,476.4 215,469.1 225,461.7 235,454.5 245,447.6 255,441.3 265,435.8 275,431.3 285,428.1 295,426.4 305,426.3 315,426.9 325,428.1 335,429.7 345,431.8 355,434.2 365,436.8 375,439.7 385,442.6 395,445.7 405,448.7 415,451.6 425,454.8 435,458.5 445,462.5 455,466.8 465,471.2 475,475.7 485,480.2 495,484.7 505,488.9 515,493.1 525,497.5 535,502.2 545,506.9 555,511.6 565,516.0 575,519.9 585,523.3 595,526.0 605,527.8 615,529.1 625,530.2 635,531.4 645,532.6 655,534.0 665,535.3 675,536.6 685,537.8 695,538.8 705,539.5 715,539.9 725,539.9 735,538.8 745,536.9 755,534.3 765,531.3 775,528.1 785,524.8 795,521.7 805,519.0 805,519.0"/><path d="M-5,720.5 5,708.2 15,695.9 25,683.6 35,671.3 45,659.0 55,646.7 65,634.3 75,621.7 85,609.0 95,596.3 105,583.9 115,571.9 125,560.5 135,549.4 145,538.4 155,527.5 165,517.1 175,507.2 185,498.0 195,489.7 205,482.4 215,474.9 225,467.3 235,459.9 245,452.8 255,446.4 265,440.8 275,436.2 285,433.0 295,431.2 305,431.1 315,431.7 325,432.9 335,434.5 345,436.6 355,439.0 365,441.6 375,444.5 385,447.4 395,450.5 405,453.5 415,456.4 425,459.7 435,463.3 445,467.3 455,471.6 465,476.1 475,480.6 485,485.1 495,489.6 505,493.9 515,498.1 525,502.6 535,507.3 545,512.2 555,516.9 565,521.3 575,525.4 585,528.8 595,531.5 605,533.3 615,534.6 625,535.7 635,536.9 645,538.2 655,539.6 665,541.0 675,542.4 685,543.7 695,544.7 705,545.5 715,545.9 725,545.9 735,544.8 745,543.0 755,540.5 765,537.6 775,534.4 785,531.2 795,528.2 805,525.5 805,525.5"/><path d="M-5,730.0 5,717.5 15,705.1 25,692.6 35,680.2 45,667.7 55,655.2 65,642.7 75,630.0 85,617.1 95,604.3 105,591.7 115,579.6 125,568.0 135,556.7 145,545.5 155,534.4 165,523.7 175,513.6 185,504.3 195,495.8 205,488.3 215,480.6 225,472.9 235,465.3 245,458.1 255,451.5 265,445.8 275,441.1 285,437.8 295,436.0 305,435.9 315,436.5 325,437.7 335,439.3 345,441.4 355,443.8 365,446.4 375,449.3 385,452.2 395,455.2 405,458.2 415,461.2 425,464.5 435,468.2 445,472.2 455,476.5 465,480.9 475,485.5 485,490.0 495,494.5 505,498.9 515,503.1 525,507.7 535,512.5 545,517.4 555,522.2 565,526.7 575,530.8 585,534.3 595,537.0 605,538.8 615,540.1 625,541.2 635,542.4 645,543.7 655,545.2 665,546.7 675,548.2 685,549.5 695,550.6 705,551.5 715,551.9 725,551.9 735,550.9 745,549.0 755,546.6 765,543.8 775,540.7 785,537.6 795,534.6 805,532.0 805,532.0"/><path d="M-5,739.5 5,726.9 15,714.3 25,701.7 35,689.0 45,676.4 55,663.8 65,651.1 75,638.3 85,625.2 95,612.3 105,599.6 115,587.2 125,575.5 135,564.0 145,552.6 155,541.3 165,530.4 175,520.1 185,510.5 195,501.9 205,494.2 215,486.4 225,478.5 235,470.8 245,463.4 255,456.7 265,450.8 275,446.1 285,442.7 295,440.8 305,440.7 315,441.3 325,442.5 335,444.1 345,446.2 355,448.5 365,451.2 375,454.0 385,457.0 395,460.0 405,463.0 415,466.0 425,469.3 435,473.0 445,477.0 455,481.3 465,485.8 475,490.4 485,495.0 495,499.5 505,503.9 515,508.1 525,512.8 535,517.6 545,522.6 555,527.4 565,532.0 575,536.2 585,539.7 595,542.5 605,544.3 615,545.6 625,546.7 635,547.9 645,549.3 655,550.8 665,552.4 675,553.9 685,555.4 695,556.6 705,557.4 715,557.9 725,557.9 735,556.9 745,555.1 755,552.7 765,550.0 775,547.0 785,543.9 795,541.0 805,538.5 805,538.5"/><path d="M-5,749.0 5,736.2 15,723.5 25,710.7 35,697.9 45,685.2 55,672.4 65,659.6 75,646.5 85,633.4 95,620.3 105,607.4 115,594.9 125,583.0 135,571.4 145,559.7 155,548.2 165,537.1 175,526.5 185,516.8 195,508.0 205,500.1 215,492.2 225,484.1 235,476.2 245,468.7 255,461.8 265,455.8 275,451.0 285,447.5 295,445.6 305,445.5 315,446.1 325,447.3 335,448.9 345,451.0 355,453.3 365,456.0 375,458.8 385,461.8 395,464.8 405,467.8 415,470.8 425,474.1 435,477.8 445,481.8 455,486.2 465,490.7 475,495.3 485,499.9 495,504.4 505,508.9 515,513.2 525,517.8 535,522.8 545,527.8 555,532.7 565,537.4 575,541.6 585,545.2 595,548.0 605,549.8 615,551.1 625,552.2 635,553.4 645,554.8 655,556.4 665,558.1 675,559.7 685,561.2 695,562.5 705,563.4 715,563.9 725,563.9 735,562.9 745,561.2 755,558.9 765,556.2 775,553.2 785,550.3 795,547.5 805,545.0 805,545.0"/><path d="M-5,758.5 5,745.6 15,732.7 25,719.7 35,706.8 45,693.9 55,681.0 65,668.0 75,654.8 85,641.5 95,628.3 105,615.2 115,602.6 125,590.5 135,578.7 145,566.8 155,555.1 165,543.7 175,533.0 185,523.0 195,514.1 205,506.1 215,497.9 225,489.7 235,481.6 245,474.0 255,467.0 265,460.8 275,455.9 285,452.3 295,450.4 305,450.3 315,450.9 325,452.1 335,453.7 345,455.7 355,458.1 365,460.8 375,463.6 385,466.6 395,469.6 405,472.6 415,475.6 425,478.9 435,482.6 445,486.7 455,491.0 465,495.5 475,500.1 485,504.8 495,509.4 505,513.8 515,518.2 525,522.9 535,527.9 545,533.0 555,538.0 565,542.8 575,547.0 585,550.7 595,553.5 605,555.3 615,556.6 625,557.7 635,558.9 645,560.4 655,562.0 665,563.8 675,565.5 685,567.1 695,568.4 705,569.4 715,569.9 725,569.9 735,568.9 745,567.3 755,565.0 765,562.4 775,559.5 785,556.6 795,553.9 805,551.5 805,551.5"/><path d="M-5,768.0 5,754.9 15,741.8 25,728.8 35,715.7 45,702.6 55,689.5 65,676.4 75,663.1 85,649.6 95,636.2 105,623.1 115,610.3 125,598.0 135,586.0 145,573.9 155,562.0 165,550.4 175,539.4 185,529.3 195,520.1 205,512.0 215,503.7 225,495.3 235,487.1 245,479.3 255,472.1 265,465.9 275,460.8 285,457.2 295,455.3 305,455.1 315,455.7 325,456.9 335,458.5 345,460.5 355,462.9 365,465.6 375,468.4 385,471.4 395,474.4 405,477.4 415,480.4 425,483.7 435,487.4 445,491.5 455,495.9 465,500.4 475,505.0 485,509.7 495,514.3 505,518.8 515,523.2 525,528.0 535,533.0 545,538.2 555,543.3 565,548.1 575,552.5 585,556.1 595,559.0 605,560.8 615,562.1 625,563.2 635,564.4 645,565.9 655,567.7 665,569.5 675,571.3 685,572.9 695,574.3 705,575.3 715,575.9 725,575.9 735,575.0 745,573.3 755,571.2 765,568.6 775,565.8 785,563.0 795,560.3 805,558.0 805,558.0"/><path d="M-5,777.5 5,764.3 15,751.0 25,737.8 35,724.6 45,711.3 55,698.1 65,684.8 75,671.4 85,657.8 95,644.2 105,630.9 115,617.9 125,605.5 135,593.3 145,581.0 155,568.8 165,557.1 175,545.9 185,535.5 195,526.2 205,517.9 215,509.5 225,500.9 235,492.5 245,484.5 255,477.2 265,470.9 275,465.7 285,462.0 295,460.1 305,459.9 315,460.5 325,461.7 335,463.3 345,465.3 355,467.7 365,470.4 375,473.2 385,476.2 395,479.2 405,482.2 415,485.2 425,488.5 435,492.2 445,496.3 455,500.7 465,505.3 475,509.9 485,514.6 495,519.3 505,523.8 515,528.2 525,533.1 535,538.2 545,543.4 555,548.6 565,553.5 575,557.9 585,561.6 595,564.5 605,566.3 615,567.6 625,568.7 635,569.9 645,571.5 655,573.3 665,575.2 675,577.0 685,578.7 695,580.2 705,581.3 715,581.9 725,581.9 735,581.0 745,579.4 755,577.3 765,574.8 775,572.1 785,569.4 795,566.8 805,564.5 805,564.5"/><path d="M-5,787.0 5,773.6 15,760.2 25,746.8 35,733.5 45,720.1 55,706.7 65,693.3 75,679.6 85,665.9 95,652.2 105,638.7 115,625.6 125,613.0 135,600.6 145,588.1 155,575.7 165,563.7 175,552.4 185,541.8 195,532.3 205,523.8 215,515.2 225,506.5 235,497.9 245,489.8 255,482.4 265,475.9 275,470.6 285,466.9 295,464.9 305,464.7 315,465.3 325,466.5 335,468.1 345,470.1 355,472.5 365,475.2 375,478.0 385,481.0 395,484.0 405,487.0 415,490.0 425,493.3 435,497.1 445,501.2 455,505.6 465,510.1 475,514.8 485,519.5 495,524.2 505,528.8 515,533.3 525,538.1 535,543.3 545,548.7 555,553.9 565,558.8 575,563.3 585,567.1 595,570.0 605,571.8 615,573.1 625,574.2 635,575.4 645,577.0 655,578.9 665,580.8 675,582.8 685,584.6 695,586.1 705,587.3 715,587.9 725,587.9 735,587.0 745,585.5 755,583.4 765,581.0 775,578.4 785,575.7 795,573.2 805,571.0 805,571.0"/><path d="M-5,796.5 5,783.0 15,769.4 25,755.9 35,742.3 45,728.8 55,715.3 65,701.7 75,687.9 85,674.0 95,660.2 105,646.6 115,633.3 125,620.5 135,607.9 145,595.2 155,582.6 165,570.4 175,558.8 185,548.1 195,538.4 205,529.7 215,521.0 225,512.1 235,503.4 245,495.1 255,487.5 265,480.9 275,475.6 285,471.7 295,469.7 305,469.5 315,470.1 325,471.3 335,472.9 345,474.9 355,477.3 365,480.0 375,482.8 385,485.8 395,488.8 405,491.8 415,494.8 425,498.1 435,501.9 445,506.0 455,510.4 465,515.0 475,519.7 485,524.5 495,529.2 505,533.8 515,538.3 525,543.2 535,548.5 545,553.9 555,559.2 565,564.2 575,568.7 585,572.5 595,575.5 605,577.3 615,578.6 625,579.6 635,580.9 645,582.6 655,584.5 665,586.5 675,588.5 685,590.4 695,592.0 705,593.2 715,593.9 725,593.9 735,593.1 745,591.6 755,589.6 765,587.2 775,584.7 785,582.1 795,579.6 805,577.5 805,577.5"/><path d="M-5,806.0 5,792.3 15,778.6 25,764.9 35,751.2 45,737.5 55,723.8 65,710.1 75,696.2 85,682.2 95,668.2 105,654.4 115,641.0 125,628.0 135,615.2 145,602.3 155,589.5 165,577.1 175,565.3 185,554.3 195,544.4 205,535.7 215,526.7 225,517.7 235,508.8 245,500.4 255,492.7 265,485.9 275,480.5 285,476.6 295,474.5 305,474.3 315,474.9 325,476.0 335,477.7 345,479.7 355,482.1 365,484.7 375,487.6 385,490.6 395,493.6 405,496.6 415,499.6 425,502.9 435,506.7 445,510.8 455,515.3 465,519.9 475,524.6 485,529.4 495,534.1 505,538.8 515,543.3 525,548.3 535,553.6 545,559.1 555,564.5 565,569.6 575,574.1 585,578.0 595,580.9 605,582.8 615,584.1 625,585.1 635,586.4 645,588.1 655,590.1 665,592.2 675,594.3 685,596.3 695,598.0 705,599.2 715,599.9 725,599.9 735,599.1 745,597.6 755,595.7 765,593.4 775,590.9 785,588.4 795,586.1 805,584.0 805,584.0"/><path d="M-5,815.5 5,801.7 15,787.8 25,774.0 35,760.1 45,746.3 55,732.4 65,718.5 75,704.5 85,690.3 95,676.2 105,662.2 115,648.6 125,635.5 135,622.5 145,609.4 155,596.4 165,583.8 175,571.7 185,560.6 195,550.5 205,541.6 215,532.5 225,523.3 235,514.3 245,505.7 255,497.8 265,491.0 275,485.4 285,481.4 295,479.3 305,479.1 315,479.7 325,480.8 335,482.5 345,484.5 355,486.9 365,489.5 375,492.4 385,495.4 395,498.4 405,501.4 415,504.4 425,507.7 435,511.5 445,515.7 455,520.1 465,524.7 475,529.5 485,534.3 495,539.1 505,543.7 515,548.3 525,553.4 535,558.8 545,564.3 555,569.8 565,574.9 575,579.6 585,583.5 595,586.4 605,588.3 615,589.6 625,590.6 635,591.9 645,593.7 655,595.7 665,597.9 675,600.1 685,602.1 695,603.9 705,605.2 715,605.9 725,605.9 735,605.1 745,603.7 755,601.8 765,599.6 775,597.2 785,594.8 795,592.5 805,590.5 805,590.5"/><path d="M-5,825.0 5,811.0 15,797.0 25,783.0 35,769.0 45,755.0 55,741.0 65,727.0 75,712.7 85,698.4 95,684.1 105,670.1 115,656.3 125,643.0 135,629.8 145,616.5 155,603.3 165,590.4 175,578.2 185,566.8 195,556.6 205,547.5 215,538.3 225,528.9 235,519.7 245,511.0 255,502.9 265,496.0 275,490.3 285,486.3 295,484.1 305,483.9 315,484.5 325,485.6 335,487.3 345,489.3 355,491.7 365,494.3 375,497.2 385,500.2 395,503.2 405,506.2 415,509.2 425,512.6 435,516.3 445,520.5 455,524.9 465,529.6 475,534.4 485,539.2 495,544.0 505,548.7 515,553.3 525,558.4 535,563.9 545,569.5 555,575.0 565,580.3 575,585.0 585,588.9 595,591.9 605,593.8 615,595.1 625,596.1 635,597.4 645,599.2 655,601.3 665,603.6 675,605.8 685,607.9 695,609.8 705,611.1 715,611.9 725,611.9 735,611.1 745,609.8 755,608.0 765,605.8 775,603.5 785,601.2 795,598.9 805,597.0 805,597.0"/><path d="M-5,834.5 5,820.3 15,806.2 25,792.0 35,777.9 45,763.7 55,749.6 65,735.4 75,721.0 85,706.6 95,692.1 105,677.9 115,664.0 125,650.5 135,637.1 145,623.6 155,610.2 165,597.1 175,584.6 185,573.1 195,562.7 205,553.4 215,544.0 225,534.5 235,525.1 245,516.2 255,508.1 265,501.0 275,495.2 285,491.1 295,488.9 305,488.7 315,489.3 325,490.4 335,492.1 345,494.1 355,496.5 365,499.1 375,502.0 385,504.9 395,508.0 405,511.0 415,514.0 425,517.4 435,521.2 445,525.3 455,529.8 465,534.5 475,539.3 485,544.1 495,549.0 505,553.7 515,558.4 525,563.5 535,569.0 545,574.7 555,580.3 565,585.6 575,590.4 585,594.4 595,597.4 605,599.3 615,600.5 625,601.6 635,603.0 645,604.8 655,606.9 665,609.2 675,611.6 685,613.8 695,615.7 705,617.1 715,617.9 725,617.9 735,617.2 745,615.9 755,614.1 765,612.0 775,609.8 785,607.5 795,605.4 805,603.5 805,603.5"/><path d="M-5,844.0 5,829.7 15,815.4 25,801.1 35,786.8 45,772.5 55,758.2 65,743.8 75,729.3 85,714.7 95,700.1 105,685.7 115,671.6 125,658.0 135,644.4 145,630.7 155,617.0 165,603.8 175,591.1 185,579.4 195,568.8 205,559.4 215,549.8 225,540.1 235,530.6 245,521.5 255,513.2 265,506.0 275,500.1 285,495.9 295,493.7 305,493.5 315,494.1 325,495.2 335,496.9 345,498.9 355,501.3 365,503.9 375,506.8 385,509.7 395,512.8 405,515.8 415,518.8 425,522.2 435,526.0 445,530.2 455,534.6 465,539.3 475,544.2 485,549.1 495,553.9 505,558.7 515,563.4 525,568.6 535,574.2 545,579.9 555,585.6 565,591.0 575,595.8 585,599.9 595,602.9 605,604.8 615,606.0 625,607.1 635,608.5 645,610.3 655,612.5 665,614.9 675,617.3 685,619.6 695,621.6 705,623.1 715,623.9 725,623.9 735,623.2 745,621.9 755,620.2 765,618.2 775,616.1 785,613.9 795,611.8 805,610.0 805,610.0"/><path d="M-5,853.5 5,839.0 15,824.6 25,810.1 35,795.7 45,781.2 55,766.7 65,752.2 75,737.6 85,722.8 95,708.1 105,693.6 115,679.3 125,665.5 135,651.7 145,637.8 155,623.9 165,610.4 175,597.6 185,585.6 195,574.8 205,565.3 215,555.6 225,545.7 235,536.0 245,526.8 255,518.4 265,511.0 275,505.1 285,500.8 295,498.5 305,498.3 315,498.9 325,500.0 335,501.7 345,503.7 355,506.1 365,508.7 375,511.6 385,514.5 395,517.6 405,520.6 415,523.6 425,527.0 435,530.8 445,535.0 455,539.5 465,544.2 475,549.1 485,554.0 495,558.9 505,563.7 515,568.4 525,573.7 535,579.3 545,585.1 555,590.9 565,596.3 575,601.2 585,605.3 595,608.4 605,610.3 615,611.5 625,612.6 635,614.0 645,615.8 655,618.1 665,620.6 675,623.1 685,625.5 695,627.5 705,629.0 715,629.9 725,629.9 735,629.2 745,628.0 755,626.4 765,624.4 775,622.4 785,620.2 795,618.3 805,616.5 805,616.5"/><path d="M-5,863.0 5,848.4 15,833.8 25,819.2 35,804.5 45,789.9 55,775.3 65,760.7 75,745.8 85,730.9 95,716.1 105,701.4 115,687.0 125,673.0 135,659.1 145,644.9 155,630.8 165,617.1 175,604.0 185,591.9 195,580.9 205,571.2 215,561.3 225,551.3 235,541.4 245,532.1 255,523.5 265,516.0 275,510.0 285,505.6 295,503.3 305,503.1 315,503.7 325,504.8 335,506.5 345,508.5 355,510.9 365,513.5 375,516.3 385,519.3 395,522.4 405,525.4 415,528.4 425,531.8 435,535.6 445,539.8 455,544.3 465,549.1 475,554.0 485,558.9 495,563.8 505,568.6 515,573.4 525,578.7 535,584.5 545,590.4 555,596.2 565,601.7 575,606.7 585,610.8 595,613.9 605,615.8 615,617.0 625,618.1 635,619.5 645,621.4 655,623.7 665,626.3 675,628.9 685,631.3 695,633.4 705,635.0 715,635.9 725,635.9 735,635.3 745,634.1 755,632.5 765,630.6 775,628.6 785,626.6 795,624.7 805,623.0 805,623.0"/><path d="M-5,872.5 5,857.7 15,843.0 25,828.2 35,813.4 45,798.7 55,783.9 65,769.1 75,754.1 85,739.1 95,724.1 105,709.2 115,694.7 125,680.5 135,666.4 145,652.0 155,637.7 165,623.8 175,610.5 185,598.1 195,587.0 205,577.1 215,567.1 225,556.9 235,546.9 245,537.4 255,528.7 265,521.1 275,514.9 285,510.5 295,508.1 305,507.9 315,508.5 325,509.6 335,511.3 345,513.3 355,515.7 365,518.3 375,521.1 385,524.1 395,527.2 405,530.2 415,533.2 425,536.6 435,540.4 445,544.7 455,549.2 465,553.9 475,558.8 485,563.8 495,568.8 505,573.6 515,578.4 525,583.8 535,589.6 545,595.6 555,601.5 565,607.1 575,612.1 585,616.3 595,619.4 605,621.3 615,622.5 625,623.6 635,625.0 645,626.9 655,629.3 665,631.9 675,634.6 685,637.1 695,639.3 705,641.0 715,641.9 725,641.9 735,641.3 745,640.2 755,638.6 765,636.8 775,634.9 785,633.0 795,631.1 805,629.5 805,629.5"/><path d="M-5,882.0 5,867.1 15,852.2 25,837.2 35,822.3 45,807.4 55,792.5 65,777.5 75,762.4 85,747.2 95,732.1 105,717.1 115,702.3 125,688.0 135,673.7 145,659.1 155,644.6 165,630.4 175,616.9 185,604.4 195,593.1 205,583.0 215,572.8 225,562.5 235,552.3 245,542.6 255,533.8 265,526.1 275,519.8 285,515.3 295,512.9 305,512.7 315,513.3 325,514.4 335,516.1 345,518.1 355,520.5 365,523.1 375,525.9 385,528.9 395,532.0 405,535.0 415,538.0 425,541.4 435,545.3 445,549.5 455,554.0 465,558.8 475,563.7 485,568.7 495,573.7 505,578.6 515,583.5 525,588.9 535,594.7 545,600.8 555,606.8 565,612.4 575,617.5 585,621.7 595,624.9 605,626.8 615,628.0 625,629.1 635,630.5 645,632.5 655,634.9 665,637.6 675,640.4 685,643.0 695,645.2 705,646.9 715,647.9 725,647.9 735,647.3 745,646.2 755,644.8 765,643.1 775,641.2 785,639.3 795,637.6 805,636.0 805,636.0"/><path d="M-5,891.5 5,876.4 15,861.3 25,846.3 35,831.2 45,816.1 55,801.0 65,785.9 75,770.7 85,755.3 95,740.0 105,724.9 115,710.0 125,695.5 135,681.0 145,666.2 155,651.5 165,637.1 175,623.4 185,610.6 195,599.2 205,589.0 215,578.6 225,568.1 235,557.8 245,547.9 255,538.9 265,531.1 275,524.7 285,520.2 295,517.7 305,517.5 315,518.1 325,519.2 335,520.9 345,522.9 355,525.2 365,527.9 375,530.7 385,533.7 395,536.7 405,539.8 415,542.8 425,546.2 435,550.1 445,554.3 455,558.9 465,563.7 475,568.6 485,573.7 495,578.7 505,583.6 515,588.5 525,594.0 535,599.9 545,606.0 555,612.1 565,617.8 575,622.9 585,627.2 595,630.4 605,632.3 615,633.5 625,634.6 635,636.0 645,638.0 655,640.5 665,643.3 675,646.1 685,648.8 695,651.1 705,652.9 715,653.9 725,653.9 735,653.3 745,652.3 755,650.9 765,649.3 775,647.5 785,645.7 795,644.0 805,642.5 805,642.5"/><path d="M-5,901.0 5,885.8 15,870.5 25,855.3 35,840.1 45,824.8 55,809.6 65,794.4 75,778.9 85,763.5 95,748.0 105,732.7 115,717.7 125,703.0 135,688.3 145,673.3 155,658.4 165,643.8 175,629.9 185,616.9 195,605.2 205,594.9 215,584.4 225,573.7 235,563.2 245,553.2 255,544.1 265,536.1 275,529.6 285,525.0 295,522.5 305,522.3 315,522.9 325,524.0 335,525.6 345,527.7 355,530.0 365,532.7 375,535.5 385,538.5 395,541.5 405,544.6 415,547.6 425,551.0 435,554.9 445,559.2 455,563.7 465,568.6 475,573.5 485,578.6 495,583.6 505,588.6 515,593.5 525,599.0 535,605.0 545,611.2 555,617.3 565,623.1 575,628.3 585,632.7 595,635.9 605,637.8 615,639.0 625,640.1 635,641.5 645,643.6 655,646.1 665,649.0 675,651.9 685,654.6 695,657.0 705,658.9 715,659.9 725,659.9 735,659.4 745,658.4 755,657.0 765,655.5 775,653.8 785,652.1 795,650.4 805,649.0 805,649.0"/><path d="M-5,910.5 5,895.1 15,879.7 25,864.3 35,849.0 45,833.6 55,818.2 65,802.8 75,787.2 85,771.6 95,756.0 105,740.6 115,725.4 125,710.5 135,695.6 145,680.4 155,665.3 165,650.5 175,636.3 185,623.2 195,611.3 205,600.8 215,590.1 225,579.3 235,568.6 245,558.5 255,549.2 265,541.1 275,534.6 285,529.8 295,527.3 305,527.1 315,527.7 325,528.8 335,530.4 345,532.5 355,534.8 365,537.5 375,540.3 385,543.3 395,546.3 405,549.4 415,552.4 425,555.8 435,559.7 445,564.0 455,568.6 465,573.4 475,578.4 485,583.5 495,588.6 505,593.6 515,598.5 525,604.1 535,610.2 545,616.4 555,622.6 565,628.5 575,633.8 585,638.2 595,641.4 605,643.3 615,644.5 625,645.6 635,647.0 645,649.1 655,651.7 665,654.6 675,657.6 685,660.5 695,663.0 705,664.8 715,665.9 725,665.9 735,665.4 745,664.5 755,663.2 765,661.7 775,660.1 785,658.4 795,656.9 805,655.5 805,655.5"/><path d="M-5,920.0 5,904.5 15,888.9 25,873.4 35,857.8 45,842.3 55,826.8 65,811.2 75,795.5 85,779.7 95,764.0 105,748.4 115,733.0 125,718.0 135,702.9 145,687.5 155,672.1 165,657.1 175,642.8 185,629.4 195,617.4 205,606.7 215,595.9 225,584.9 235,574.1 245,563.8 255,554.4 265,546.1 275,539.5 285,534.7 295,532.1 305,531.9 315,532.5 325,533.6 335,535.2 345,537.3 355,539.6 365,542.3 375,545.1 385,548.1 395,551.1 405,554.2 415,557.2 425,560.6 435,564.5 445,568.8 455,573.4 465,578.3 475,583.3 485,588.4 495,593.5 505,598.5 515,603.5 525,609.2 535,615.3 545,621.6 555,627.9 565,633.9 575,639.2 585,643.6 595,646.9 605,648.8 615,650.0 625,651.1 635,652.5 645,654.6 655,657.3 665,660.3 675,663.4 685,666.3 695,668.9 705,670.8 715,671.9 725,671.9 735,671.4 745,670.5 755,669.3 765,667.9 775,666.3 785,664.8 795,663.3 805,662.0 805,662.0"/><path d="M-5,929.5 5,913.8 15,898.1 25,882.4 35,866.7 45,851.0 55,835.3 65,819.6 75,803.8 85,787.9 95,772.0 105,756.2 115,740.7 125,725.5 135,710.2 145,694.6 155,679.0 165,663.8 175,649.2 185,635.7 195,623.5 205,612.7 215,601.7 225,590.5 235,579.5 245,569.1 255,559.5 265,551.2 275,544.4 285,539.5 295,536.9 305,536.7 315,537.3 325,538.4 335,540.0 345,542.1 355,544.4 365,547.1 375,549.9 385,552.9 395,555.9 405,559.0 415,562.0 425,565.4 435,569.4 445,573.7 455,578.3 465,583.2 475,588.2 485,593.3 495,598.5 505,603.5 515,608.6 525,614.2 535,620.4 545,626.9 555,633.2 565,639.2 575,644.6 585,649.1 595,652.4 605,654.3 615,655.5 625,656.6 635,658.0 645,660.2 655,662.9 665,666.0 675,669.1 685,672.2 695,674.8 705,676.7 715,677.9 725,677.9 735,677.5 745,676.6 755,675.4 765,674.1 775,672.6 785,671.1 795,669.7 805,668.5 805,668.5"/><path d="M-5,939.0 5,923.2 15,907.3 25,891.5 35,875.6 45,859.8 55,843.9 65,828.1 75,812.1 85,796.0 95,780.0 105,764.1 115,748.4 125,733.0 135,717.5 145,701.7 155,685.9 165,670.5 175,655.7 185,641.9 195,629.6 205,618.6 215,607.4 225,596.1 235,584.9 245,574.3 255,564.6 265,556.2 275,549.3 285,544.4 295,541.7 305,541.5 315,542.1 325,543.2 335,544.8 345,546.9 355,549.2 365,551.8 375,554.7 385,557.7 395,560.7 405,563.8 415,566.8 425,570.3 435,574.2 445,578.5 455,583.1 465,588.0 475,593.1 485,598.3 495,603.4 505,608.5 515,613.6 525,619.3 535,625.6 545,632.1 555,638.5 565,644.6 575,650.0 585,654.6 595,657.9 605,659.8 615,661.0 625,662.1 635,663.5 645,665.7 655,668.5 665,671.7 675,674.9 685,678.0 695,680.7 705,682.7 715,683.8 725,683.9 735,683.5 745,682.7 755,681.6 765,680.3 775,678.9 785,677.5 795,676.2 805,675.0 805,675.0"/><path d="M-5,948.5 5,932.5 15,916.5 25,900.5 35,884.5 45,868.5 55,852.5 65,836.5 75,820.3 85,804.1 95,787.9 105,771.9 115,756.0 125,740.5 135,724.8 145,708.8 155,692.8 165,677.1 175,662.1 185,648.2 195,635.6 205,624.5 215,613.2 225,601.7 235,590.4 245,579.6 255,569.8 265,561.2 275,554.2 285,549.2 295,546.6 305,546.3 315,546.9 325,548.0 335,549.6 345,551.6 355,554.0 365,556.6 375,559.5 385,562.5 395,565.5 405,568.6 415,571.6 425,575.1 435,579.0 445,583.3 455,588.0 465,592.9 475,598.0 485,603.2 495,608.4 505,613.5 515,618.6 525,624.4 535,630.7 545,637.3 555,643.8 565,649.9 575,655.4 585,660.0 595,663.4 605,665.3 615,666.5 625,667.6 635,669.0 645,671.3 655,674.1 665,677.3 675,680.7 685,683.8 695,686.6 705,688.7 715,689.8 725,689.9 735,689.5 745,688.7 755,687.7 765,686.5 775,685.2 785,683.9 795,682.6 805,681.5 805,681.5"/><path d="M-5,958.0 5,941.8 15,925.7 25,909.5 35,893.4 45,877.2 55,861.1 65,844.9 75,828.6 85,812.2 95,795.9 105,779.7 115,763.7 125,748.0 135,732.2 145,715.9 155,699.7 165,683.8 175,668.6 185,654.5 195,641.7 205,630.4 215,618.9 225,607.3 235,595.8 245,584.9 255,574.9 265,566.2 275,559.1 285,554.1 295,551.4 305,551.1 315,551.7 325,552.8 335,554.4 345,556.4 355,558.8 365,561.4 375,564.3 385,567.3 395,570.3 405,573.4 415,576.4 425,579.9 435,583.8 445,588.2 455,592.8 465,597.8 475,602.9 485,608.1 495,613.3 505,618.5 515,623.6 525,629.5 535,635.9 545,642.5 555,649.1 565,655.3 575,660.9 585,665.5 595,668.9 605,670.8 615,672.0 625,673.1 635,674.5 645,676.8 655,679.7 665,683.0 675,686.4 685,689.7 695,692.5 705,694.6 715,695.8 725,695.9 735,695.5 745,694.8 755,693.8 765,692.7 775,691.5 785,690.2 795,689.0 805,688.0 805,688.0"/><path d="M-5,967.5 5,951.2 15,934.9 25,918.6 35,902.3 45,886.0 55,869.7 65,853.3 75,836.9 85,820.4 95,803.9 105,787.5 115,771.4 125,755.5 135,739.5 145,723.0 155,706.6 165,690.5 175,675.1 185,660.7 195,647.8 205,636.4 215,624.7 225,612.9 235,601.3 245,590.2 255,580.1 265,571.2 275,564.1 285,558.9 295,556.2 305,555.9 315,556.5 325,557.6 335,559.2 345,561.2 355,563.6 365,566.2 375,569.1 385,572.0 395,575.1 405,578.2 415,581.2 425,584.7 435,588.6 445,593.0 455,597.7 465,602.6 475,607.8 485,613.0 495,618.3 505,623.5 515,628.6 525,634.5 535,641.0 545,647.7 555,654.4 565,660.6 575,666.3 585,671.0 595,674.4 605,676.3 615,677.5 625,678.6 635,680.0 645,682.3 655,685.3 665,688.7 675,692.2 685,695.5 695,698.4 705,700.6 715,701.8 725,701.9 735,701.6 745,700.9 755,700.0 765,698.9 775,697.8 785,696.6 795,695.5 805,694.5 805,694.5"/><path d="M-5,977.0 5,960.5 15,944.1 25,927.6 35,911.2 45,894.7 55,878.2 65,861.7 75,845.2 85,828.5 95,811.9 105,795.4 115,779.1 125,763.0 135,746.8 145,730.1 155,713.5 165,697.1 175,681.5 185,667.0 195,653.9 205,642.3 215,630.5 225,618.5 235,606.7 245,595.5 255,585.2 265,576.2 275,569.0 285,563.8 295,561.0 305,560.7 315,561.3 325,562.4 335,564.0 345,566.0 355,568.4 365,571.0 375,573.9 385,576.8 395,579.9 405,583.0 415,586.0 425,589.5 435,593.4 445,597.8 455,602.5 465,607.5 475,612.7 485,617.9 495,623.2 505,628.4 515,633.7 525,639.6 535,646.1 545,652.9 555,659.6 565,666.0 575,671.7 585,676.4 595,679.9 605,681.8 615,683.0 625,684.0 635,685.5 645,687.9 655,690.9 665,694.3 675,697.9 685,701.3 695,704.3 705,706.6 715,707.8 725,708.0 735,707.6 745,707.0 755,706.1 765,705.1 775,704.0 785,702.9 795,701.9 805,701.0 805,701.0"/><path d="M-5,986.5 5,969.9 15,953.3 25,936.7 35,920.0 45,903.4 55,886.8 65,870.2 75,853.4 85,836.6 95,819.9 105,803.2 115,786.7 125,770.5 135,754.1 145,737.3 155,720.4 165,703.8 175,688.0 185,673.2 195,660.0 205,648.2 215,636.2 225,624.1 235,612.1 245,600.8 255,590.3 265,581.3 275,573.9 285,568.6 295,565.8 305,565.5 315,566.1 325,567.2 335,568.8 345,570.8 355,573.2 365,575.8 375,578.6 385,581.6 395,584.7 405,587.8 415,590.8 425,594.3 435,598.3 445,602.7 455,607.4 465,612.4 475,617.6 485,622.9 495,628.2 505,633.4 515,638.7 525,644.7 535,651.3 545,658.1 555,664.9 565,671.4 575,677.1 585,681.9 595,685.4 605,687.3 615,688.5 625,689.5 635,691.0 645,693.4 655,696.5 665,700.0 675,703.7 685,707.2 695,710.2 705,712.5 715,713.8 725,714.0 735,713.6 745,713.0 755,712.2 765,711.3 775,710.3 785,709.3 795,708.3 805,707.5 805,707.5"/></g>
<g fill="none" stroke="#dde5f6" stroke-width="1" clip-path="url(#lowclip)"><path d="M280,535 Q370,470 510,418"/><path d="M288,535 Q378,470 518,418"/><path d="M296,535 Q386,470 526,418"/><path d="M304,535 Q394,470 534,418"/><path d="M312,535 Q402,470 542,418"/><path d="M320,535 Q410,470 550,418"/><path d="M328,535 Q418,470 558,418"/><path d="M336,535 Q426,470 566,418"/><path d="M344,535 Q434,470 574,418"/><path d="M352,535 Q442,470 582,418"/><path d="M360,535 Q450,470 590,418"/><path d="M368,535 Q458,470 598,418"/><path d="M376,535 Q466,470 606,418"/><path d="M384,535 Q474,470 614,418"/><path d="M392,535 Q482,470 622,418"/><path d="M400,535 Q490,470 630,418"/><path d="M408,535 Q498,470 638,418"/><path d="M416,535 Q506,470 646,418"/><path d="M424,535 Q514,470 654,418"/><path d="M432,535 Q522,470 662,418"/><path d="M440,535 Q530,470 670,418"/><path d="M448,535 Q538,470 678,418"/><path d="M456,535 Q546,470 686,418"/><path d="M464,535 Q554,470 694,418"/><path d="M472,535 Q562,470 702,418"/><path d="M480,535 Q570,470 710,418"/><path d="M488,535 Q578,470 718,418"/><path d="M496,535 Q586,470 726,418"/><path d="M504,535 Q594,470 734,418"/><path d="M512,535 Q602,470 742,418"/><path d="M520,535 Q610,470 750,418"/><path d="M528,535 Q618,470 758,418"/><path d="M536,535 Q626,470 766,418"/><path d="M544,535 Q634,470 774,418"/><path d="M552,535 Q642,470 782,418"/><path d="M560,535 Q650,470 790,418"/><path d="M568,535 Q658,470 798,418"/><path d="M576,535 Q666,470 806,418"/><path d="M584,535 Q674,470 814,418"/><path d="M592,535 Q682,470 822,418"/><path d="M600,535 Q690,470 830,418"/><path d="M608,535 Q698,470 838,418"/><path d="M616,535 Q706,470 846,418"/><path d="M624,535 Q714,470 854,418"/><path d="M632,535 Q722,470 862,418"/><path d="M640,535 Q730,470 870,418"/><path d="M648,535 Q738,470 878,418"/><path d="M656,535 Q746,470 886,418"/><path d="M664,535 Q754,470 894,418"/><path d="M672,535 Q762,470 902,418"/><path d="M680,535 Q770,470 910,418"/><path d="M688,535 Q778,470 918,418"/><path d="M696,535 Q786,470 926,418"/><path d="M704,535 Q794,470 934,418"/><path d="M712,535 Q802,470 942,418"/><path d="M720,535 Q810,470 950,418"/><path d="M728,535 Q818,470 958,418"/><path d="M736,535 Q826,470 966,418"/><path d="M744,535 Q834,470 974,418"/><path d="M752,535 Q842,470 982,418"/><path d="M760,535 Q850,470 990,418"/><path d="M768,535 Q858,470 998,418"/><path d="M776,535 Q866,470 1006,418"/><path d="M784,535 Q874,470 1014,418"/><path d="M792,535 Q882,470 1022,418"/><path d="M800,535 Q890,470 1030,418"/><path d="M808,535 Q898,470 1038,418"/><path d="M816,535 Q906,470 1046,418"/><path d="M824,535 Q914,470 1054,418"/><path d="M832,535 Q922,470 1062,418"/></g>
<path d="M0,77.5 H570 C634,77.5 665,123 665,169 C665,244 591,245.5 536,245.5 H255 C143,245.5 124.5,277 124.5,335 C124.5,420 219,413 295,413 H800" fill="none" stroke="#c9cdf0" stroke-width="12" opacity="0.4" transform="translate(0,3)" filter="url(#bl)"/>
<path d="M0,77.5 H570 C634,77.5 665,123 665,169 C665,244 591,245.5 536,245.5 H255 C143,245.5 124.5,277 124.5,335 C124.5,420 219,413 295,413 H800" fill="none" stroke="#d8dcf9" stroke-width="11.5"/>
<ellipse cx="99.6" cy="74.3" rx="59" ry="54.75" fill="#c0c6f0" opacity="0.45" filter="url(#bl)"/>
<ellipse cx="99.6" cy="71.3" rx="59" ry="54.75" fill="#c0c6f7"/>
<clipPath id="c0"><ellipse cx="99.6" cy="71.3" rx="54.5" ry="50.25"/></clipPath>
<ellipse cx="320.6" cy="74.75" rx="59" ry="54.75" fill="#c0c6f0" opacity="0.45" filter="url(#bl)"/>
<ellipse cx="320.6" cy="71.75" rx="59" ry="54.75" fill="#c0c6f7"/>
<clipPath id="c1"><ellipse cx="320.6" cy="71.75" rx="54.5" ry="50.25"/></clipPath>
<ellipse cx="320.6" cy="71.75" rx="54.5" ry="50.25" fill="url(#st)"/>
<ellipse cx="541.8" cy="74.5" rx="59" ry="54.75" fill="#c0c6f0" opacity="0.45" filter="url(#bl)"/>
<ellipse cx="541.8" cy="71.5" rx="59" ry="54.75" fill="#c0c6f7"/>
<clipPath id="c2"><ellipse cx="541.8" cy="71.5" rx="54.5" ry="50.25"/></clipPath>
<ellipse cx="541.8" cy="71.5" rx="54.5" ry="50.25" fill="url(#st)"/>
<ellipse cx="239.3" cy="250.6" rx="59" ry="54.75" fill="#c0c6f0" opacity="0.45" filter="url(#bl)"/>
<ellipse cx="239.3" cy="247.6" rx="59" ry="54.75" fill="#c0c6f7"/>
<clipPath id="c3"><ellipse cx="239.3" cy="247.6" rx="54.5" ry="50.25"/></clipPath>
<ellipse cx="239.3" cy="247.6" rx="54.5" ry="50.25" fill="url(#st)"/>
<ellipse cx="450.6" cy="251.3" rx="59" ry="54.75" fill="#c0c6f0" opacity="0.45" filter="url(#bl)"/>
<ellipse cx="450.6" cy="248.3" rx="59" ry="54.75" fill="#c0c6f7"/>
<clipPath id="c4"><ellipse cx="450.6" cy="248.3" rx="54.5" ry="50.25"/></clipPath>
<ellipse cx="450.6" cy="248.3" rx="54.5" ry="50.25" fill="url(#st)"/>
<ellipse cx="288.6" cy="424.4" rx="59" ry="54.75" fill="#c0c6f0" opacity="0.45" filter="url(#bl)"/>
<ellipse cx="288.6" cy="421.4" rx="59" ry="54.75" fill="#c0c6f7"/>
<clipPath id="c5"><ellipse cx="288.6" cy="421.4" rx="54.5" ry="50.25"/></clipPath>
<ellipse cx="288.6" cy="421.4" rx="54.5" ry="50.25" fill="url(#st)"/>
<ellipse cx="510.3" cy="424.5" rx="59" ry="54.75" fill="#c0c6f0" opacity="0.45" filter="url(#bl)"/>
<ellipse cx="510.3" cy="421.5" rx="59" ry="54.75" fill="#c0c6f7"/>
<clipPath id="c6"><ellipse cx="510.3" cy="421.5" rx="54.5" ry="50.25"/></clipPath>
<ellipse cx="510.3" cy="421.5" rx="54.5" ry="50.25" fill="url(#st)"/>
<ellipse cx="732.3" cy="425" rx="59" ry="54.75" fill="#c0c6f0" opacity="0.45" filter="url(#bl)"/>
<ellipse cx="732.3" cy="422" rx="59" ry="54.75" fill="#c0c6f7"/>
<clipPath id="c7"><ellipse cx="732.3" cy="422" rx="54.5" ry="50.25"/></clipPath>
<g clip-path="url(#c0)"><g filter="url(#rock)"><rect x="40" y="15" width="120" height="115" fill="#2e2a2a"/><polygon points="67.8,56.8 83.1,46.6 97.2,49.2 103.5,64.5 101.1,79.9 86.9,87.5 72.9,82.4 66.5,69.6" fill="#c4c0c0" stroke="#3a3535" stroke-width="0.8"/><polygon points="67.8,56.8 83.1,46.6 97.2,49.2 103.5,64.5 101.1,79.9 86.9,87.5 72.9,82.4 66.5,69.6" fill="url(#rsh)"/><polygon points="90.2,33.9 105.5,30.1 115.9,40.3 117.1,54.4 104.4,59.5 91.5,54.4 89.0,42.9" fill="#9c9696" stroke="#3a3535" stroke-width="0.8"/><polygon points="90.2,33.9 105.5,30.1 115.9,40.3 117.1,54.4 104.4,59.5 91.5,54.4 89.0,42.9" fill="url(#rsh)"/><polygon points="96.7,54.6 118.4,52.0 121.0,64.8 112.0,80.2 99.1,75.1" fill="#aca6a6" stroke="#3a3535" stroke-width="0.8"/><polygon points="96.7,54.6 118.4,52.0 121.0,64.8 112.0,80.2 99.1,75.1" fill="url(#rsh)"/><polygon points="50.9,42.8 66.3,31.3 77.9,35.2 76.6,50.5 63.8,56.9 50.9,54.4" fill="#aaa6a6" stroke="#3a3535" stroke-width="0.8"/><polygon points="50.9,42.8 66.3,31.3 77.9,35.2 76.6,50.5 63.8,56.9 50.9,54.4" fill="url(#rsh)"/><polygon points="68.5,29.0 86.5,23.8 94.0,34.0 88.9,46.9 76.2,49.4 71.0,39.2" fill="#a5a0a0" stroke="#3a3535" stroke-width="0.8"/><polygon points="68.5,29.0 86.5,23.8 94.0,34.0 88.9,46.9 76.2,49.4 71.0,39.2" fill="url(#rsh)"/><polygon points="47.2,56.9 61.2,49.2 72.8,62.0 67.6,79.9 49.7,82.5 44.6,69.7" fill="#9e9a9a" stroke="#3a3535" stroke-width="0.8"/><polygon points="47.2,56.9 61.2,49.2 72.8,62.0 67.6,79.9 49.7,82.5 44.6,69.7" fill="url(#rsh)"/><polygon points="120.6,36.9 136.0,33.1 146.2,47.1 143.8,60.0 128.3,65.1 118.2,54.8" fill="#949090" stroke="#3a3535" stroke-width="0.8"/><polygon points="120.6,36.9 136.0,33.1 146.2,47.1 143.8,60.0 128.3,65.1 118.2,54.8" fill="url(#rsh)"/><polygon points="132.1,55.7 150.1,51.8 155.1,69.7 144.9,80.0 129.5,74.9 126.9,64.7" fill="#a8a4a4" stroke="#3a3535" stroke-width="0.8"/><polygon points="132.1,55.7 150.1,51.8 155.1,69.7 144.9,80.0 129.5,74.9 126.9,64.7" fill="url(#rsh)"/><polygon points="104.3,79.2 122.3,68.9 140.2,71.5 145.4,89.5 135.1,99.6 112.1,97.1 103.1,89.5" fill="#b2acac" stroke="#3a3535" stroke-width="0.8"/><polygon points="104.3,79.2 122.3,68.9 140.2,71.5 145.4,89.5 135.1,99.6 112.1,97.1 103.1,89.5" fill="url(#rsh)"/><polygon points="48.5,87.3 64.0,82.1 79.3,87.3 81.8,102.6 69.1,115.4 53.7,107.7 47.4,97.4" fill="#a89c96" stroke="#3a3535" stroke-width="0.8"/><polygon points="48.5,87.3 64.0,82.1 79.3,87.3 81.8,102.6 69.1,115.4 53.7,107.7 47.4,97.4" fill="url(#rsh)"/><polygon points="78.7,93.5 99.2,88.3 112.0,101.2 109.4,116.5 91.4,121.6 80.0,111.3" fill="#aaa6a6" stroke="#3a3535" stroke-width="0.8"/><polygon points="78.7,93.5 99.2,88.3 112.0,101.2 109.4,116.5 91.4,121.6 80.0,111.3" fill="url(#rsh)"/><polygon points="104.9,93.7 128.0,91.1 138.2,101.4 133.1,114.2 112.7,116.8 102.4,106.5" fill="#b2aeae" stroke="#3a3535" stroke-width="0.8"/><polygon points="104.9,93.7 128.0,91.1 138.2,101.4 133.1,114.2 112.7,116.8 102.4,106.5" fill="url(#rsh)"/><polygon points="72.2,78.7 92.6,78.7 108.1,86.4 102.9,96.6 82.5,97.8 72.2,89.0" fill="#a09c9c" stroke="#3a3535" stroke-width="0.8"/><polygon points="72.2,78.7 92.6,78.7 108.1,86.4 102.9,96.6 82.5,97.8 72.2,89.0" fill="url(#rsh)"/><polygon points="133.8,78.6 149.3,76.1 154.4,89.0 146.7,99.1 136.4,96.6" fill="#908c8c" stroke="#3a3535" stroke-width="0.8"/><polygon points="133.8,78.6 149.3,76.1 154.4,89.0 146.7,99.1 136.4,96.6" fill="url(#rsh)"/></g><ellipse cx="99.6" cy="71.3" rx="54.5" ry="50.25" fill="url(#vig)"/></g>
<g><polygon points="316,57 343,60 342,67 316,65" fill="#7a3424"/><polygon points="267.5,69.2 304.3,65.6 296,91 257.9,91" fill="#7a2c1e"/><polygon points="282,70 304,67 300,76 280,76" fill="#e6d2b0"/><line x1="262.0" y1="89.5" x2="276.4" y2="76.8" stroke="#b24e36" stroke-width="2.6"/><line x1="261.4" y1="88.6" x2="275.8" y2="75.9" stroke="#f2d6c2" stroke-width="0.7"/><line x1="266.9" y1="89.5" x2="281.3" y2="76.8" stroke="#b24e36" stroke-width="2.6"/><line x1="266.3" y1="88.6" x2="280.7" y2="75.9" stroke="#f2d6c2" stroke-width="0.7"/><line x1="271.8" y1="89.5" x2="286.2" y2="76.8" stroke="#b24e36" stroke-width="2.6"/><line x1="271.2" y1="88.6" x2="285.6" y2="75.9" stroke="#f2d6c2" stroke-width="0.7"/><line x1="276.7" y1="89.5" x2="291.1" y2="76.8" stroke="#b24e36" stroke-width="2.6"/><line x1="276.1" y1="88.6" x2="290.5" y2="75.9" stroke="#f2d6c2" stroke-width="0.7"/><line x1="281.6" y1="89.5" x2="296.0" y2="76.8" stroke="#b24e36" stroke-width="2.6"/><line x1="281.0" y1="88.6" x2="295.4" y2="75.9" stroke="#f2d6c2" stroke-width="0.7"/><line x1="286.5" y1="89.5" x2="300.9" y2="76.8" stroke="#b24e36" stroke-width="2.6"/><line x1="285.9" y1="88.6" x2="300.3" y2="75.9" stroke="#f2d6c2" stroke-width="0.7"/><line x1="291.4" y1="89.5" x2="305.8" y2="76.8" stroke="#b24e36" stroke-width="2.6"/><line x1="290.8" y1="88.6" x2="305.2" y2="75.9" stroke="#f2d6c2" stroke-width="0.7"/><polygon points="267.5,67.6 304.3,64.4 304.3,69 267.5,72.5" fill="#9c3a26"/><line x1="267.5" y1="67.8" x2="304.3" y2="64.6" stroke="#f0e0d8" stroke-width="0.8"/><polygon points="258.4,89.7 270.3,71.9 274,72 262,89.7" fill="#a84630"/><polygon points="257.9,89 296,89 296,101.5 257.9,101.5" fill="#9a3c26"/><polygon points="293.8,101 293.8,72 307.2,62.5 339,67.7 340.2,59.8 354.7,51.2 370.6,57.2 375.9,74.3 377.5,80 381.5,98.3" fill="#f1e5bb"/><polygon points="308,62 339,67 336,101 318,101 320,70" fill="#f7efcc"/><polygon points="330,68 339,67 344,100 334,100" fill="#e2d3a0"/><polygon points="340.2,59.8 354.7,51.2 370.6,57.2 375.9,74.3 345,72" fill="#ebdfb0"/><ellipse cx="371" cy="64" rx="3.8" ry="4.6" fill="#2a2a2a"/><ellipse cx="372.3" cy="64" rx="1.8" ry="3" fill="#c83a28"/><circle cx="382.5" cy="89.5" r="2" fill="#333"/></g>
<g><ellipse cx="527" cy="59" rx="10.5" ry="8.5" fill="#2a2a2a"/><ellipse cx="529" cy="58.5" rx="10" ry="8.5" fill="#e0461e"/><ellipse cx="529.5" cy="59" rx="6.5" ry="5.5" fill="#ececec"/><polygon points="497.8,61.7 526,54 557.3,50.8 528.6,57.7" fill="#f6f6f6"/><polygon points="528.6,57.7 557.3,51.8 561.3,82.5 577.1,86.4 577.1,110.2 528.6,124.1" fill="#ebebeb"/><polygon points="528.6,83 561,80 577,86 528.6,88" fill="#d2d2d2"/><polygon points="528.6,100 577,97 577,100 528.6,103" fill="#d0d0d0"/><polygon points="497.8,61.7 528.6,57.7 528.6,124.1 498.8,116.2" fill="#e4e4e4"/><rect x="499.5" y="67.0" width="8.2" height="8.2" fill="#b7b7b0"/><rect x="509.0" y="66.4" width="8.2" height="8.2" fill="#b7b7b0"/><rect x="518.5" y="65.8" width="8.2" height="8.2" fill="#b7b7b0"/><rect x="499.5" y="76.9" width="8.2" height="8.2" fill="#b7b7b0"/><rect x="509.0" y="76.3" width="8.2" height="8.2" fill="#b7b7b0"/><rect x="518.5" y="75.7" width="8.2" height="8.2" fill="#b7b7b0"/><rect x="499.5" y="86.8" width="8.2" height="8.2" fill="#b7b7b0"/><rect x="509.0" y="86.2" width="8.2" height="8.2" fill="#b7b7b0"/><rect x="518.5" y="85.6" width="8.2" height="8.2" fill="#b7b7b0"/><rect x="499.5" y="96.7" width="8.2" height="8.2" fill="#b7b7b0"/><rect x="509.0" y="96.1" width="8.2" height="8.2" fill="#b7b7b0"/><rect x="518.5" y="95.5" width="8.2" height="8.2" fill="#b7b7b0"/><rect x="499.5" y="106.6" width="8.2" height="8.2" fill="#b7b7b0"/><rect x="509.0" y="106.0" width="8.2" height="8.2" fill="#b7b7b0"/><rect x="518.5" y="105.4" width="8.2" height="8.2" fill="#b7b7b0"/><ellipse cx="569.5" cy="62" rx="9.5" ry="21.5" fill="#151515"/><ellipse cx="579.3" cy="62" rx="9.3" ry="22.7" fill="#e8461c"/><ellipse cx="579.8" cy="62" rx="7" ry="19" fill="#e4e4e4"/><ellipse cx="580" cy="62.5" rx="2.8" ry="4.5" fill="#e3421c"/><circle cx="548" cy="68.5" r="1" fill="#333"/><circle cx="553" cy="69" r="1" fill="#333"/></g>
<g><polygon points="241.8,228.8 295.9,243.3 291.9,271 232.6,290.8 236,240" fill="#f4ecc8"/><polygon points="258,233 265,235 262,285 254,287" fill="#e4d8ae"/><polygon points="276,238 282,240 280,279 273,281" fill="#e7dbb2"/><polygon points="190.3,235.4 240.5,232.8 240.5,288.2 231.2,288.2 176,284.2 178,280 180.5,272 183,260 187.5,246" fill="#111"/><line x1="181" y1="247.3" x2="240.5" y2="246.5" stroke="#5e5e5e" stroke-width="1.1"/><line x1="181" y1="269.7" x2="240.5" y2="268.9" stroke="#5e5e5e" stroke-width="1.1"/><line x1="181" y1="280.3" x2="240.5" y2="279.5" stroke="#5e5e5e" stroke-width="1.1"/><circle cx="262" cy="264" r="2" fill="#d8cca0"/><circle cx="276" cy="266" r="2" fill="#d8cca0"/></g>
<g><rect x="415" y="278" width="80" height="26" fill="none"/><g stroke="#141414" fill="none"><rect x="418.5" y="281" width="74.5" height="21.5" stroke-width="5"/><line x1="444" y1="280" x2="444" y2="302" stroke-width="5"/><line x1="468" y1="280" x2="468" y2="302" stroke-width="5"/><line x1="420" y1="282" x2="444" y2="300" stroke-width="4"/><line x1="444" y1="300" x2="468" y2="282" stroke-width="4"/><line x1="468" y1="282" x2="492" y2="300" stroke-width="4"/></g><rect x="420" y="271.6" width="76" height="8" fill="#f2f2f2"/><polygon points="417,242.6 487.6,242.6 479.3,272 425.3,272" fill="#e6e6e6"/><rect x="412.8" y="231" width="79" height="11.6" fill="#ededed"/><rect x="421" y="219" width="63" height="12" fill="#f4f4f4"/><ellipse cx="452.5" cy="219" rx="31.5" ry="3.5" fill="#fbfbfb"/><rect x="451" y="213.5" width="3" height="3" fill="#eee"/><line x1="424" y1="222" x2="424" y2="230" stroke="#d6d6d6" stroke-width="1"/><line x1="429" y1="222" x2="429" y2="230" stroke="#d6d6d6" stroke-width="1"/><line x1="434" y1="222" x2="434" y2="230" stroke="#d6d6d6" stroke-width="1"/><line x1="439" y1="222" x2="439" y2="230" stroke="#d6d6d6" stroke-width="1"/><line x1="444" y1="222" x2="444" y2="230" stroke="#d6d6d6" stroke-width="1"/><line x1="449" y1="222" x2="449" y2="230" stroke="#d6d6d6" stroke-width="1"/><line x1="454" y1="222" x2="454" y2="230" stroke="#d6d6d6" stroke-width="1"/><line x1="459" y1="222" x2="459" y2="230" stroke="#d6d6d6" stroke-width="1"/><line x1="464" y1="222" x2="464" y2="230" stroke="#d6d6d6" stroke-width="1"/><line x1="469" y1="222" x2="469" y2="230" stroke="#d6d6d6" stroke-width="1"/><line x1="474" y1="222" x2="474" y2="230" stroke="#d6d6d6" stroke-width="1"/><line x1="479" y1="222" x2="479" y2="230" stroke="#d6d6d6" stroke-width="1"/><rect x="414.9" y="247.7" width="9.4" height="24" fill="#e23a22"/><rect x="418.4" y="242" width="2.4" height="6" fill="#333"/><rect x="438.8" y="247.7" width="8.3" height="24" fill="#e23a22"/><rect x="441.8" y="242" width="2.4" height="6" fill="#333"/><rect x="458.5" y="247.7" width="9.3" height="24" fill="#e23a22"/><rect x="461.9" y="242" width="2.4" height="6" fill="#333"/><rect x="482.4" y="247.7" width="8.3" height="24" fill="#e23a22"/><rect x="485.3" y="242" width="2.4" height="6" fill="#333"/><rect x="448" y="254" width="10" height="16" fill="#8e8e8e"/><rect x="425" y="258" width="55" height="2" fill="#888"/><ellipse cx="415.5" cy="277" rx="9.5" ry="16" fill="#1c1c1c"/><ellipse cx="407.7" cy="276.3" rx="9.6" ry="16.1" fill="#f0f0f0" stroke="#d03020" stroke-width="1.6"/><ellipse cx="407.5" cy="276" rx="2.8" ry="4" fill="#d83a24"/></g>
<g><g stroke="#b9bcc4" fill="none" stroke-width="1"><polyline points="228,416 228,404.5 240,404.5 240,416"/><polyline points="350.5,416 350.5,404.5 343,404.5 343,416"/></g><rect x="228" y="416" width="29" height="19" fill="#464a55"/><rect x="319.5" y="416" width="31" height="19" fill="#464a55"/><g stroke="#c4c4c4" fill="none" stroke-width="0.9"><rect x="228.5" y="416.5" width="28" height="18"/><rect x="320" y="416.5" width="30" height="18"/></g><polygon points="270.7,395 307.5,395 304.3,413 272,413" fill="#ececec"/><ellipse cx="289" cy="395" rx="18.4" ry="3.6" fill="#f6f6f6"/><rect x="263.5" y="401.5" width="11" height="15" fill="#e4e4e4"/><rect x="257" y="413.6" width="60" height="21" fill="#dedede"/><line x1="270" y1="414.9" x2="310" y2="414.9" stroke="#d04444" stroke-width="1.3"/><line x1="273" y1="421.2" x2="298" y2="421.2" stroke="#d04444" stroke-width="1.2"/><rect x="227" y="434.5" width="123.5" height="5.5" fill="#efefef"/><rect x="236" y="439.5" width="106" height="14" fill="#e0e0e0"/><polygon points="271.5,441 313.1,441 303.2,464 279.4,464" fill="#e8e8e8"/><rect x="265" y="439" width="5" height="25" fill="#f2f2f2"/><rect x="313" y="439" width="5" height="25" fill="#f2f2f2"/><rect x="237.5" y="442" width="11.5" height="8.5" fill="#2c3352"/><rect x="327.5" y="441" width="12" height="7" fill="#2c3352"/></g>
<g><clipPath id="wtop"><rect x="440" y="360" width="140" height="71"/></clipPath><g clip-path="url(#wtop)"><polygon points="471.1,429.1 470.4,425.6 475.5,421.8 475.5,418.6 470.3,414.9 471.0,411.3 477.2,409.4 478.2,406.4 474.7,401.2 476.5,398.1 483.0,398.2 485.1,395.8 483.6,389.8 486.4,387.4 492.5,389.6 495.4,388.0 496.1,381.8 499.6,380.5 504.5,384.5 507.8,383.9 510.6,378.3 514.4,378.2 517.6,383.6 520.9,384.0 525.5,379.7 529.1,380.8 530.3,386.9 533.2,388.3 539.1,385.7 542.1,387.9 541.1,394.0 543.3,396.3 549.8,395.7 551.9,398.7 548.7,404.1 550.0,407.0 556.3,408.6 557.2,412.1 552.3,416.1 552.5,419.3 557.9,422.7 557.5,426.3 551.4,428.6 550.5,431.6 560,431 470,431" fill="#efe5b5"/><ellipse cx="504" cy="413" rx="21" ry="20.5" fill="#8e8568"/><polygon points="512,402 522,396 526,413 514,416" fill="#4656b9"/><line x1="493" y1="392" x2="497" y2="430" stroke="#efe5b5" stroke-width="3.5"/><line x1="478" y1="425" x2="534" y2="411" stroke="#efe5b5" stroke-width="3.5"/><ellipse cx="533" cy="390" rx="6" ry="3.5" fill="#b3a77a"/><ellipse cx="543" cy="403" rx="6" ry="4.5" fill="#ab9f72"/><ellipse cx="546" cy="419" rx="5.5" ry="4.5" fill="#a59a6e"/><rect x="494" y="418" width="10" height="13" fill="#3a78d6"/></g><polygon points="453.1,430.2 563.1,430.2 559,461.3 539.3,473.8 462.5,467.6 454.2,444.7" fill="#2c6dd2"/><polygon points="539.3,438 563.1,430.2 559,461.3 539.3,473.8" fill="#2159b6"/><rect x="453" y="430" width="110" height="2.5" fill="#5d9be9"/><g stroke="#dfe9fb" stroke-width="1.1" opacity="0.85"><line x1="487" y1="438.5" x2="505" y2="438.5"/><line x1="490" y1="443" x2="503" y2="443"/><line x1="487" y1="447" x2="505" y2="447"/></g><circle cx="459" cy="437" r="0.9" fill="#dfe9fb"/></g>
<g clip-path="url(#c7)"><rect x="672.3" y="367" width="120" height="110" fill="#ccb37c" filter="url(#sand)"/></g>
</svg>
<div class="t" style="left:99px;top:139px">原料</div>
<div class="t" style="left:321px;top:139px">振动给料机</div>
<div class="t" style="left:541px;top:139px">颚式破碎机</div>
<div class="t" style="left:239.5px;top:316px">振动筛</div>
<div class="t" style="left:450.5px;top:315px">圆锥破碎机</div>
<div class="t" style="left:288.5px;top:488px">制砂机</div>
<div class="t" style="left:510.5px;top:488px">洗砂机</div>
<div class="t" style="left:732.5px;top:488px">成品</div>
</body></html>
